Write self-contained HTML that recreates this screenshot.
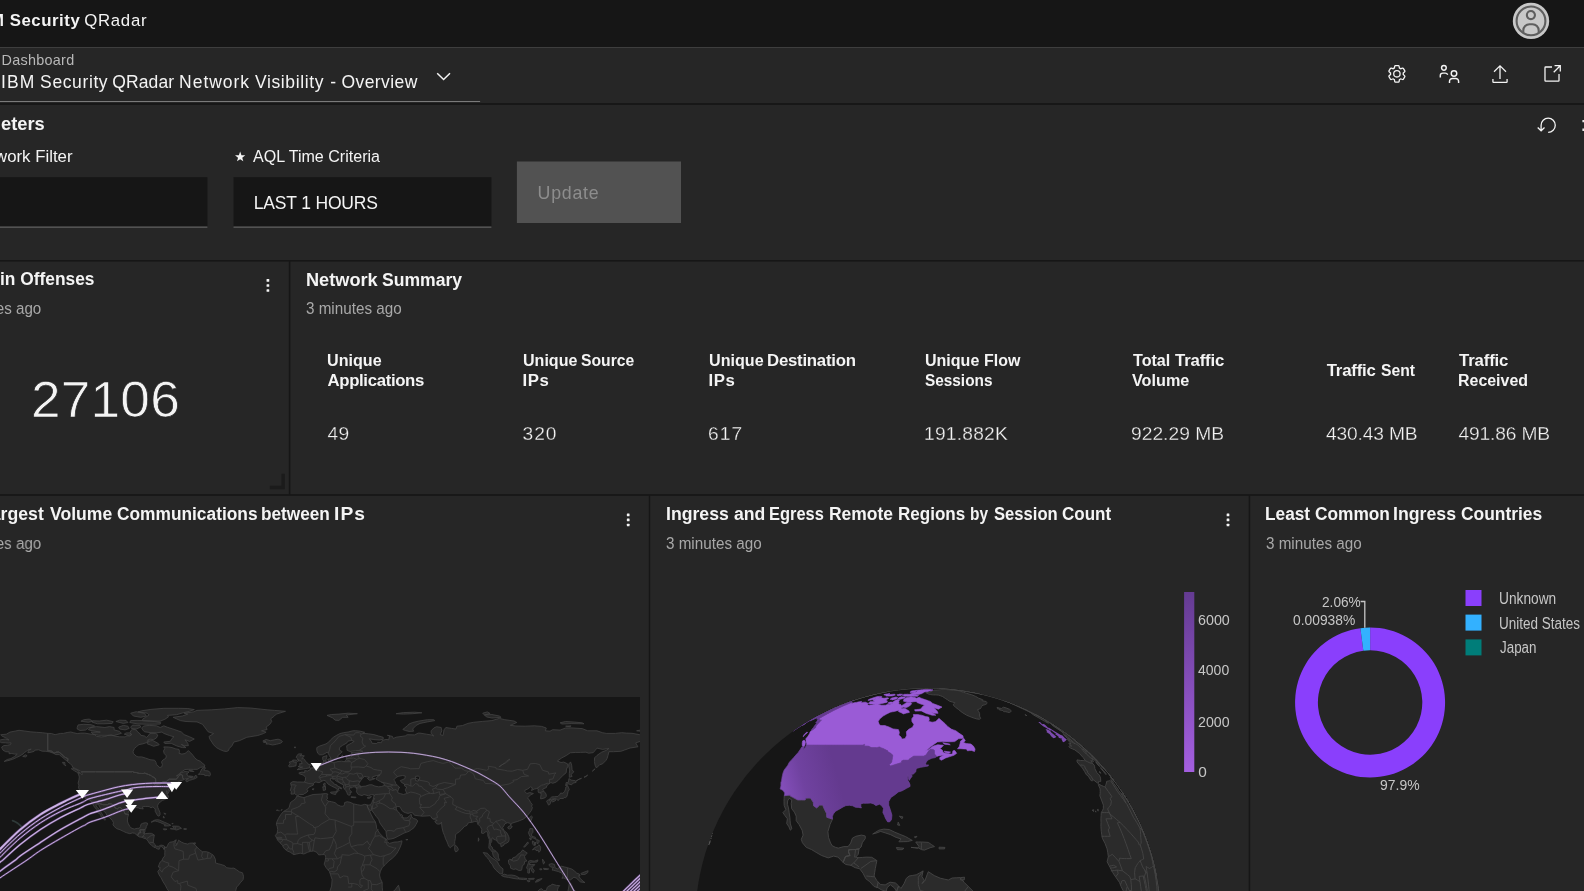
<!DOCTYPE html>
<html><head><meta charset="utf-8"><title>IBM Security QRadar</title>
<style>
html,body{margin:0;padding:0;background:#161616;}
body{width:1584px;height:891px;overflow:hidden;position:relative;font-family:"Liberation Sans",sans-serif;}
#bg{position:absolute;left:0;top:0;}
#tx{position:absolute;left:0;top:0;width:1584px;height:891px;will-change:transform;}
.t{position:absolute;white-space:pre;line-height:1;font-weight:400;}
</style></head><body>
<svg id="bg" width="1584" height="891" viewBox="0 0 1584 891">
<rect x="0" y="0" width="1584" height="891" fill="#161616"/>
<rect x="0" y="47" width="1584" height="1" fill="#3e3e3e"/>
<rect x="0" y="48" width="1584" height="55.1" fill="#262626"/>
<rect x="0" y="101" width="480.1" height="1" fill="#7a7a7a"/>
<rect x="0" y="104.9" width="1584" height="155.1" fill="#262626"/>
<rect x="0" y="261.6" width="288.8" height="232.6" fill="#262626"/>
<rect x="290.4" y="261.6" width="1293.6" height="232.6" fill="#262626"/>
<rect x="0" y="495.8" width="648.8" height="395.2" fill="#262626"/>
<rect x="650.2" y="495.8" width="598.5" height="395.2" fill="#262626"/>
<rect x="1250.2" y="495.8" width="333.8" height="395.2" fill="#262626"/>
<rect x="0" y="177.2" width="207.4" height="49.4" fill="#161616"/>
<rect x="0" y="226.6" width="207.4" height="1.0" fill="#6f6f6f"/>
<rect x="233.5" y="177.2" width="257.9" height="49.4" fill="#161616"/>
<rect x="233.5" y="226.6" width="257.9" height="1.0" fill="#6f6f6f"/>
<rect x="516.9" y="161.5" width="164.1" height="61.5" fill="#525252"/>
<clipPath id="mc"><rect x="0" y="697.0" width="640.0" height="194.0"/></clipPath>
<rect x="0" y="697.0" width="640.0" height="194.0" fill="#161616"/>
<g clip-path="url(#mc)">
<path d="M91.8,802.4L91.0,801.0L89.4,800.0L88.3,799.5L85.5,798.7L84.8,797.1L82.9,795.0L82.8,794.3L81.8,793.0L80.9,791.8L79.4,789.6L78.5,787.8L78.9,785.2L78.1,783.1L78.9,780.1L79.3,777.0L78.7,774.9L77.8,772.9L80.7,773.2L82.0,774.9L82.2,773.2L81.3,771.8L95.7,771.8L114.1,771.8L132.1,771.8L132.9,771.2L133.3,772.3L136.2,772.5L139.0,773.4L141.7,773.4L143.0,773.6L144.7,773.1L148.2,774.4L151.3,775.7L151.9,776.4L153.5,777.2L155.6,778.6L155.7,782.9L155.2,783.9L154.4,784.6L155.6,785.3L158.3,784.4L162.0,783.3L161.8,782.4L162.9,781.8L166.1,781.8L167.0,780.7L169.4,779.2L175.8,779.2L177.1,778.5L178.0,777.0L178.6,776.0L180.1,774.6L181.7,774.8L182.6,775.4L182.6,777.9L183.4,778.8L184.1,779.4L183.0,780.1L180.8,780.5L179.0,781.4L178.0,782.0L177.3,783.1L176.9,784.0L177.5,785.0L178.6,784.7L178.6,785.3L176.7,785.7L175.8,785.9L174.0,786.2L172.0,786.7L171.2,787.4L171.2,788.9L170.3,789.8L169.6,790.5L168.5,789.6L168.8,790.5L169.2,791.5L168.3,793.0L167.7,793.9L167.2,792.4L166.8,790.5L166.6,792.2L167.0,794.1L167.6,794.8L168.3,796.1L168.5,797.3L166.6,798.4L164.2,799.8L162.2,800.4L160.3,802.1L158.5,803.4L157.6,805.6L157.8,807.5L158.9,809.9L160.0,812.7L160.0,814.9L159.2,816.0L158.1,816.1L156.8,814.4L156.1,812.9L155.2,811.4L155.2,809.1L153.9,807.7L152.8,807.0L150.9,807.8L149.7,806.9L148.0,806.4L145.6,806.5L143.8,806.4L142.5,806.8L142.8,808.2L143.3,809.0L141.5,808.7L139.9,808.6L138.2,807.8L136.2,807.6L134.4,807.8L132.9,808.4L131.4,809.4L129.2,810.6L128.3,812.1L128.1,813.4L128.5,814.7L125.0,813.8L124.2,811.8L122.4,809.7L120.5,807.5L118.7,807.5L117.4,809.0L115.0,807.8L114.1,806.0L111.3,803.8L108.2,803.8L108.2,804.7L103.0,804.7L96.0,802.4L96.2,802.1ZM67.5,761.2L65.6,760.2L64.0,758.4L61.4,756.5L59.2,754.6L56.0,754.6L53.3,753.2L49.6,751.9L45.9,751.3L42.2,751.2L38.5,749.8L34.8,750.2L34.1,751.4L31.2,752.2L27.8,752.8L28.6,750.4L31.2,749.1L28.0,749.8L26.5,751.3L24.5,752.4L23.2,753.9L20.1,755.8L16.4,757.6L12.7,759.3L9.0,760.4L4.1,761.5L7.2,759.5L10.9,758.6L14.6,756.5L17.3,754.1L14.9,754.1L11.8,753.5L9.0,753.7L9.2,751.9L5.7,751.7L3.0,750.2L2.0,748.3L1.7,747.0L3.9,745.5L7.2,745.3L10.5,744.6L11.1,742.9L8.1,743.1L5.3,742.8L1.3,742.7L-0.5,741.4L-2.0,740.9L0.7,739.8L5.3,739.0L9.0,740.0L6.3,738.1L1.7,735.9L0.7,734.7L6.3,734.2L10.0,732.1L15.5,731.0L19.0,730.3L24.7,731.0L30.2,731.8L36.7,732.3L42.2,732.7L47.7,733.4L47.7,750.7L51.4,751.1L54.2,753.2L56.0,752.2L58.8,752.0L61.6,754.1L64.3,756.9L68.0,758.7ZM47.7,733.4L51.4,733.5L55.1,734.7L57.9,734.0L60.6,733.4L63.4,733.4L67.1,732.5L70.8,732.0L73.5,732.7L77.2,733.6L80.9,733.1L84.6,733.1L90.1,734.0L94.7,734.7L96.6,736.4L101.2,736.9L104.9,736.5L107.6,735.5L111.3,734.9L115.0,736.2L119.6,736.8L125.1,736.9L127.0,735.7L129.8,736.0L131.6,734.6L130.1,732.7L130.7,730.8L132.5,729.2L136.2,729.9L138.0,732.3L139.9,733.6L140.8,735.3L144.5,736.0L146.3,737.5L148.2,735.9L150.0,733.3L155.6,733.3L157.8,735.1L156.5,737.9L153.7,739.6L150.0,739.2L147.6,740.0L149.1,741.6L146.3,742.7L142.7,743.9L139.0,744.6L136.6,746.5L134.4,748.5L133.1,751.3L133.4,753.5L136.2,756.1L138.0,756.9L141.7,756.9L145.4,758.0L150.0,759.7L154.6,760.2L156.1,762.5L156.3,764.5L158.3,766.0L159.4,767.5L161.6,767.1L162.4,764.7L161.5,761.9L162.9,760.0L165.7,758.4L166.4,755.9L164.2,753.5L163.5,750.9L164.8,748.7L163.8,746.9L168.5,747.0L172.1,747.6L175.8,748.9L179.0,749.4L179.5,751.7L179.0,753.3L181.9,754.1L185.0,753.5L186.9,751.9L188.4,750.6L190.6,752.8L192.8,755.2L194.6,757.6L197.0,759.9L200.3,761.2L202.2,763.0L204.8,765.1L204.4,766.9L200.7,767.3L197.4,769.3L193.3,769.4L188.7,769.3L185.0,769.5L182.6,771.2L179.9,773.1L177.5,775.3L176.4,775.9L178.6,774.9L181.4,772.7L185.0,771.5L189.1,771.9L187.4,773.6L186.3,774.0L188.0,775.3L188.4,776.8L190.0,777.3L192.4,777.9L194.3,777.9L195.0,775.7L196.3,775.5L197.2,777.3L195.2,778.6L192.4,779.5L189.6,780.3L186.9,781.8L185.8,781.2L186.0,779.9L188.5,778.6L186.9,778.7L185.0,779.0L184.1,779.4L183.4,778.8L182.6,777.9L182.6,775.4L181.7,774.8L180.1,774.6L178.6,776.0L178.0,777.0L177.1,778.5L175.8,779.2L169.4,779.2L167.0,780.7L166.1,781.8L162.9,781.8L161.8,782.4L162.0,783.3L158.3,784.4L155.6,785.3L154.4,784.6L155.2,783.9L155.7,782.9L155.6,778.6L153.5,777.2L151.9,776.4L151.3,775.7L148.2,774.4L144.7,773.1L143.0,773.6L141.7,773.4L139.0,773.4L136.2,772.5L133.3,772.3L132.9,771.2L132.1,771.8L114.1,771.8L95.7,771.8L81.3,771.8L80.5,771.0L78.0,769.9L75.4,768.6L72.8,767.3L71.9,765.4L70.0,763.4L67.8,762.1L67.5,761.2L68.0,758.7L64.3,756.9L61.6,754.1L58.8,752.0L56.0,752.2L54.2,753.2L51.4,751.1L47.7,750.7ZM128.5,814.7L127.7,817.3L127.4,821.0L128.3,823.8L129.9,826.6L131.0,827.9L132.9,828.7L134.4,829.0L137.1,828.3L139.3,828.3L140.4,826.6L141.0,824.2L142.7,823.3L145.4,822.7L147.4,823.1L147.6,824.4L146.3,826.4L146.0,828.5L145.0,829.4L143.3,829.7L139.9,829.8L139.9,830.9L140.8,832.6L138.6,833.0L137.7,835.8L134.7,833.3L132.5,832.9L129.8,833.7L126.1,832.6L123.3,831.3L120.0,829.7L116.8,828.7L114.1,826.4L113.0,824.8L113.5,822.7L112.2,820.3L109.5,817.5L106.9,815.5L106.0,813.2L103.9,811.2L101.2,809.3L99.5,806.7L98.8,804.7L96.4,803.8L96.0,805.2L96.9,807.1L98.8,809.0L100.3,811.2L102.1,814.0L103.8,817.1L105.6,819.6L104.9,820.3L103.4,818.6L101.2,817.0L100.6,814.5L98.4,813.1L96.0,811.4L97.3,809.9L94.9,807.7L93.4,805.4L91.8,802.4L96.2,802.1L96.0,802.4L103.0,804.7L108.2,804.7L108.2,803.8L111.3,803.8L114.1,806.0L115.0,807.8L117.4,809.0L118.7,807.5L120.5,807.5L122.4,809.7L124.2,811.8L125.0,813.8ZM145.0,829.4L144.9,832.0L143.8,833.3L145.4,833.6L149.1,833.3L151.7,833.4L154.3,835.0L153.7,838.7L153.3,842.3L154.6,844.3L156.5,846.2L158.7,846.3L160.9,845.1L163.5,845.5L165.0,846.8L164.0,849.4L163.1,847.8L161.1,846.3L159.6,847.6L159.2,849.3L157.2,848.8L155.4,847.6L153.5,847.1L151.3,844.9L149.5,843.6L148.0,841.0L146.2,838.8L143.9,838.3L141.7,837.2L139.1,836.9L137.7,835.8L138.6,833.0L140.8,832.6L139.9,830.9L139.9,829.8L143.3,829.7ZM80.2,772.9L77.6,772.5L74.8,771.0L71.3,768.8L72.4,768.2L76.3,769.5L79.1,771.4ZM65.8,765.8L63.6,764.3L62.5,762.3L64.9,762.5L64.9,764.3ZM22.7,756.5L25.6,756.9L27.1,755.6L25.3,754.8ZM198.3,774.4L200.0,772.7L201.8,769.0L204.8,766.9L205.3,768.6L203.7,769.9L205.3,770.6L208.6,771.0L209.9,772.5L210.5,774.5L209.6,776.1L207.7,775.5L204.8,775.7L204.4,774.5L200.7,774.3ZM189.1,775.9L193.3,776.5L192.2,777.3L189.8,776.8ZM188.7,770.1L193.3,771.0L193.9,771.6L190.0,771.2ZM194.3,739.0L189.6,741.4L185.0,739.8L187.8,743.3L188.4,745.7L184.1,745.7L181.4,744.4L186.0,747.6L182.3,747.6L176.7,745.9L171.2,743.3L164.8,743.5L163.8,742.0L170.3,741.3L172.1,738.3L174.0,736.8L169.4,735.5L163.8,733.4L162.0,732.0L156.5,732.9L150.9,732.7L144.5,731.8L142.7,729.9L141.7,728.0L143.6,726.0L149.1,725.4L156.5,725.8L160.2,727.5L163.8,725.8L167.5,727.3L174.9,729.7L181.4,732.0L184.1,734.6L189.6,736.8ZM121.5,733.3L114.1,735.5L106.7,735.3L98.4,735.3L92.9,734.0L91.0,732.1L100.3,732.1L91.0,730.5L88.3,729.7L91.0,727.5L96.6,726.6L104.9,727.5L109.5,726.6L114.1,727.5L114.1,729.9L119.6,731.4ZM77.2,729.0L80.0,730.5L85.5,730.1L88.3,728.0L93.8,726.7L94.7,726.0L91.0,724.7L83.7,724.3L78.1,724.9L77.2,727.5ZM92.0,722.1L97.5,723.8L103.9,723.8L112.2,723.4L113.2,721.7L106.7,720.2L99.3,721.0L92.9,720.8ZM119.6,729.0L125.1,729.9L129.2,728.4L127.9,726.2L123.3,725.4L118.7,727.1ZM131.6,728.6L136.2,729.0L140.8,727.1L139.9,725.3L132.5,725.1L130.7,727.1ZM129.8,722.5L138.0,724.0L149.1,724.3L160.2,724.1L160.7,722.5L154.6,721.5L143.6,720.6L137.1,720.4L130.7,720.6ZM142.7,720.8L150.9,721.0L160.2,721.2L164.8,719.3L168.5,716.9L167.5,715.4L176.7,714.7L182.3,713.0L189.6,711.3L194.3,709.6L187.8,708.5L178.6,708.3L163.8,708.3L150.9,709.4L141.7,710.8L138.0,711.9L147.3,713.2L149.1,715.0L145.4,717.4L142.7,719.1ZM130.7,713.2L136.2,711.7L144.5,713.4L146.3,716.0L140.8,717.3L133.4,716.0ZM115.9,721.5L123.3,723.4L127.9,722.5L126.1,720.4L119.6,720.2ZM147.3,741.1L152.8,740.5L158.3,743.5L159.2,744.8L153.7,746.3L150.0,744.8L147.3,743.9ZM124.2,734.2L128.8,735.3L131.6,734.7L129.8,732.9L126.1,732.9ZM80.9,721.2L88.3,722.3L92.9,721.2L89.2,719.1L83.7,719.7ZM173.1,717.3L180.4,720.6L186.0,721.5L197.0,721.9L202.5,724.3L205.3,728.0L208.1,731.8L213.6,733.6L209.0,736.4L209.9,739.2L211.8,742.0L213.6,744.8L216.4,747.6L220.1,749.6L223.7,751.1L226.5,751.5L228.4,750.7L229.3,748.5L232.0,745.7L233.9,742.0L239.4,740.7L246.8,737.3L257.8,735.5L263.4,733.6L266.1,732.1L261.5,730.8L267.1,729.5L266.1,727.1L269.8,724.3L271.7,721.5L270.7,718.8L274.4,716.0L276.3,714.1L285.5,711.3L274.4,710.4L267.1,709.8L250.5,708.0L237.6,707.6L224.7,708.9L211.8,709.8L197.0,710.4L193.3,711.9L184.1,713.2L187.8,714.1L182.3,716.0ZM262.8,741.1L266.1,739.4L270.2,740.7L274.4,739.8L278.1,739.2L280.7,740.1L282.5,741.6L280.9,743.1L276.3,744.3L272.6,745.0L268.9,744.1L265.9,744.0L267.1,742.9L263.4,742.2L266.1,741.4ZM151.1,822.2L154.1,820.3L156.5,819.7L159.2,819.9L162.0,821.2L164.8,822.4L167.5,823.5L170.8,825.3L168.5,825.9L164.4,826.0L165.3,824.6L162.9,823.8L160.2,822.5L157.4,821.6L155.0,820.9L153.2,821.6ZM170.3,828.7L173.4,829.0L174.2,828.3L172.5,826.1L175.5,826.1L178.6,826.3L181.5,828.3L179.5,828.9L176.7,830.0L175.5,829.8L174.0,829.0ZM163.3,828.8L167.0,829.1L166.1,829.8L163.8,829.8ZM183.8,828.6L186.5,828.7L186.3,829.4L183.8,829.4ZM163.8,813.2L165.7,813.6L165.3,814.5ZM163.5,816.2L164.4,817.9L163.3,817.7ZM171.8,823.7L173.1,823.3L172.5,824.0ZM193.5,843.0L195.4,842.8L195.2,844.1L193.5,844.1ZM165.0,846.8L166.1,848.0L167.5,845.6L168.5,843.4L169.7,842.3L173.1,841.7L176.2,839.8L175.6,842.4L176.7,844.3L175.6,845.8L176.9,844.7L178.0,841.7L178.6,840.2L181.4,842.1L184.1,843.3L187.8,844.1L189.6,843.2L193.3,843.0L195.2,845.2L197.0,847.1L199.8,849.9L202.5,851.7L206.2,851.7L209.0,852.5L211.8,854.2L213.6,855.5L215.5,859.6L215.5,862.9L218.2,863.8L220.1,864.2L224.7,865.7L226.5,867.7L231.1,868.3L233.9,868.1L236.6,869.8L239.4,871.8L242.5,872.8L243.5,876.3L243.1,879.6L240.3,882.8L238.5,885.2L236.6,887.1L235.7,890.8L235.4,895.4L233.9,900.1L232.0,903.8L230.2,905.7L225.6,906.2L221.9,907.5L218.2,910.9L218.0,915.0L215.5,918.7L211.8,922.8L209.0,926.1L206.2,927.8L202.5,927.1L200.0,926.1L202.2,929.9L201.3,933.6L193.3,935.4L192.8,938.8L187.8,939.2L190.2,941.9L187.3,943.8L186.9,946.6L183.2,948.5L186.0,951.2L182.3,955.9L180.4,959.6L181.7,960.5L186.9,964.8L181.4,965.8L176.7,964.3L171.2,960.5L168.5,955.9L168.5,950.3L171.2,946.6L172.1,941.0L171.6,937.3L172.1,932.6L174.0,928.9L175.8,924.3L175.8,918.7L177.7,911.3L178.0,905.7L178.2,900.1L177.9,896.9L175.8,895.1L172.1,893.2L168.5,890.8L167.0,888.6L165.3,885.2L162.9,881.5L161.1,877.8L159.2,875.0L157.8,871.5L159.6,869.2L160.2,867.5L158.3,867.0L159.2,864.4L160.2,862.0L162.0,860.5L162.9,858.2L164.8,855.8L164.8,852.7L165.0,850.3L164.0,849.4ZM291.0,794.1L291.4,791.5L290.3,790.7L291.4,786.6L290.6,782.9L292.9,781.6L297.5,782.0L301.1,782.0L304.3,782.2L305.4,780.1L305.6,777.3L303.5,775.1L299.3,773.8L298.9,772.9L302.1,772.1L304.8,772.5L304.7,770.6L307.6,771.0L310.4,769.5L310.5,768.2L314.1,767.3L315.3,766.0L316.3,764.3L320.5,763.4L323.3,762.8L323.8,761.0L322.7,759.7L322.7,756.9L327.0,755.6L326.6,757.8L326.0,759.7L326.0,761.5L327.9,762.5L330.6,761.7L333.8,762.5L338.0,761.5L341.7,761.2L344.1,761.7L346.3,760.0L346.3,756.9L348.1,755.8L350.9,756.9L352.4,755.9L352.8,754.5L350.9,752.8L353.7,752.2L359.2,751.9L362.9,751.3L360.1,750.4L355.5,750.6L350.0,751.5L347.2,750.4L346.9,748.5L346.7,745.7L351.8,742.9L354.2,741.4L351.8,740.5L348.1,741.1L346.9,742.9L342.6,745.3L339.5,747.6L339.3,750.0L342.2,751.7L340.8,753.2L338.0,755.4L337.6,757.8L334.3,758.7L333.8,759.9L331.6,759.9L331.0,758.4L329.3,755.6L328.2,753.2L327.0,752.2L325.1,753.5L322.3,754.8L319.6,754.8L317.7,753.2L316.8,750.4L316.8,747.6L319.6,746.1L323.3,744.8L326.0,743.9L328.8,742.0L330.6,739.8L333.4,737.3L336.2,735.5L339.9,733.6L343.5,732.7L348.1,732.0L352.8,730.8L355.5,730.7L360.1,731.2L364.7,732.3L362.9,733.3L368.4,733.8L373.9,734.6L378.6,736.0L383.2,737.3L383.2,739.2L379.5,740.0L373.9,739.6L369.3,738.8L371.2,741.1L372.1,743.3L376.7,743.5L377.6,742.4L381.3,742.7L382.2,740.5L385.9,739.4L388.7,739.8L389.6,735.9L387.4,735.3L392.4,736.4L393.3,738.5L396.1,737.2L405.3,735.9L407.1,734.7L414.5,734.9L418.2,733.1L420.0,733.1L426.5,734.2L431.1,734.9L433.8,736.0L431.1,733.4L431.1,730.8L433.8,728.0L436.6,726.7L441.2,727.5L441.8,730.8L440.3,734.6L443.1,735.5L444.0,729.9L445.8,727.5L451.4,728.4L456.0,729.0L456.9,726.2L462.4,725.6L467.9,723.4L473.5,722.3L482.7,721.4L491.9,720.6L499.3,718.4L504.8,719.7L514.0,721.0L516.8,722.5L510.3,725.3L515.9,726.0L525.1,726.2L534.3,725.8L541.7,726.4L546.3,728.0L545.3,730.8L550.0,731.2L552.7,729.7L560.1,730.1L565.6,728.0L571.1,727.9L582.2,728.6L587.7,730.8L597.0,730.8L602.5,732.7L606.2,733.4L615.4,733.4L621.8,732.7L626.4,733.1L632.0,733.3L639.3,734.6L644.9,736.4L652.2,738.3L658.3,740.0L652.2,742.9L646.7,741.4L641.2,741.1L635.7,742.9L637.9,746.8L630.1,748.0L624.6,750.0L620.9,751.3L613.5,751.7L608.9,751.7L608.0,755.4L607.1,758.4L605.8,760.6L602.5,763.9L599.7,764.7L596.4,768.0L595.1,765.2L594.4,761.5L594.6,757.8L597.0,755.4L601.6,752.2L606.2,750.4L608.9,748.5L602.5,749.4L597.0,748.1L593.3,752.6L588.7,753.2L585.9,752.2L580.4,752.4L575.8,752.4L570.2,752.8L566.5,755.4L561.9,757.8L557.3,761.0L561.0,762.5L563.8,762.1L567.5,763.8L568.0,766.2L566.5,769.0L566.2,772.7L562.9,775.5L559.2,779.2L556.4,782.0L552.7,783.3L550.9,782.5L548.5,784.2L546.8,785.7L546.3,787.6L543.1,788.9L542.6,790.0L544.4,791.7L546.1,794.1L546.3,796.3L545.3,797.6L543.0,798.4L540.6,798.9L540.7,796.9L541.1,794.5L540.9,793.0L538.5,792.6L538.0,790.9L538.5,789.4L536.9,788.5L534.3,789.1L531.5,790.5L532.4,787.9L530.6,786.8L527.8,788.9L525.1,790.2L524.5,791.3L526.9,793.5L529.7,792.6L533.4,793.5L530.6,795.0L527.5,797.8L529.3,800.0L530.6,802.4L532.3,804.7L531.5,806.2L532.4,807.5L531.5,810.3L529.7,812.7L528.0,814.9L526.0,817.0L523.2,819.2L519.5,820.7L517.7,821.4L514.0,822.5L511.3,823.5L510.9,825.1L509.8,823.1L507.2,822.7L504.8,823.8L503.9,825.7L502.6,827.6L503.9,830.4L507.0,833.1L508.9,836.9L509.2,839.6L508.5,841.9L505.7,843.6L504.4,843.7L503.9,845.2L501.1,846.9L500.7,844.3L498.4,843.2L497.1,841.1L495.6,840.0L493.6,839.3L492.8,837.8L491.9,838.3L491.7,841.5L490.4,843.7L490.6,845.8L492.3,847.3L492.8,849.5L495.0,850.4L496.5,851.7L498.2,854.0L498.4,857.3L499.6,860.3L498.2,860.5L496.0,858.8L494.3,857.5L493.0,855.1L492.5,852.5L491.3,850.8L488.8,848.0L489.0,845.2L489.3,842.4L489.3,839.6L487.8,835.9L487.7,832.2L486.0,831.5L483.4,833.5L481.4,833.1L481.8,829.4L480.3,826.6L478.1,824.4L477.2,822.4L476.8,821.2L474.4,821.6L471.6,822.4L469.8,822.5L467.9,823.1L467.0,825.3L464.3,826.6L461.5,829.8L459.3,831.8L456.9,833.3L455.4,835.0L455.4,838.3L454.7,841.5L454.7,843.7L453.2,845.6L451.7,846.3L450.4,847.8L448.6,846.2L448.0,844.3L446.7,841.0L445.5,838.7L444.5,835.4L443.1,832.2L442.0,827.6L441.6,823.8L441.4,822.2L440.7,823.7L438.5,824.2L436.6,823.8L434.8,821.4L437.2,820.3L434.2,819.6L432.0,818.4L431.1,816.8L430.2,815.7L426.5,816.0L421.9,816.2L419.1,815.8L414.5,815.3L412.7,812.9L411.4,812.5L408.0,813.4L405.3,812.7L402.5,811.2L401.2,809.0L399.8,806.7L397.5,806.5L396.1,807.5L396.4,809.3L397.9,811.8L400.1,813.6L400.3,815.5L401.6,814.4L402.7,815.8L402.1,817.3L404.4,817.9L407.1,817.9L409.5,815.8L411.2,814.2L411.7,816.8L413.6,818.6L415.8,819.0L417.8,821.0L415.8,824.8L414.1,827.6L411.7,829.4L409.0,831.3L404.0,833.1L397.9,836.3L394.2,838.2L390.5,839.1L387.8,839.3L386.8,836.9L386.3,834.1L385.9,831.3L383.2,827.6L379.8,822.9L378.6,819.2L376.2,816.4L373.9,813.1L372.1,810.8L371.9,808.0L370.8,811.0L368.8,809.3L367.7,807.3L367.1,804.9L368.8,805.1L370.6,804.7L371.9,802.4L373.0,799.7L373.8,796.9L374.1,794.8L371.2,794.6L368.4,795.8L364.0,794.5L362.0,795.6L358.3,794.5L356.4,791.7L357.0,789.4L355.9,788.5L358.3,787.8L361.0,787.8L361.4,786.5L365.7,786.1L369.3,784.8L372.1,784.8L374.9,786.1L378.6,786.8L381.3,786.6L384.3,785.5L384.1,783.5L380.8,781.8L377.6,780.1L375.8,778.8L377.6,776.4L379.8,775.3L376.7,775.5L372.5,776.8L372.1,778.1L374.9,778.6L372.5,779.6L369.5,780.3L367.5,778.5L369.3,777.3L366.6,776.8L364.4,776.4L362.3,778.6L360.3,781.1L359.2,782.9L358.7,784.0L359.6,785.7L361.2,786.3L359.2,786.6L357.4,787.2L355.9,787.8L355.5,787.0L352.8,786.8L351.8,787.9L349.8,787.6L349.4,789.4L350.5,790.7L351.8,792.2L350.0,792.4L350.4,793.5L350.0,795.0L348.9,795.2L347.6,794.5L346.9,792.6L345.8,790.5L344.8,789.2L343.4,787.9L343.5,785.3L341.7,783.9L338.9,782.5L336.2,781.1L334.3,778.8L332.8,779.4L332.7,778.1L330.3,778.6L330.5,780.5L332.7,782.0L334.3,784.2L337.1,785.0L337.1,785.9L339.9,787.0L341.7,788.1L341.5,788.9L338.9,787.8L338.2,789.1L339.1,790.4L338.0,791.5L336.5,792.4L336.9,790.9L337.1,789.4L336.2,788.3L334.3,787.4L331.6,786.1L330.1,785.2L327.9,783.9L326.6,782.0L325.1,780.7L323.8,780.3L321.4,781.4L319.0,782.7L316.8,782.2L315.0,782.0L313.3,783.9L313.5,785.0L311.7,785.9L309.1,787.0L307.0,789.4L308.0,790.9L306.5,792.6L304.3,793.7L303.4,794.5L299.5,794.6L297.6,795.8L296.2,794.8L294.7,793.7L292.9,794.1ZM296.7,796.3L297.8,796.1L302.1,797.2L303.9,797.6L307.6,796.3L313.1,794.5L320.5,794.1L325.7,793.5L327.9,794.1L327.0,795.9L327.5,798.7L326.4,799.7L328.2,801.1L331.6,801.7L335.6,802.8L337.1,804.7L340.8,806.2L343.5,806.2L344.5,804.3L344.6,802.6L347.2,801.7L350.0,802.3L353.7,803.9L357.4,804.7L361.0,805.4L364.7,804.3L367.1,804.9L367.7,807.3L369.3,810.8L371.2,814.5L373.0,818.3L375.4,822.0L376.2,824.8L376.7,828.5L379.5,833.1L381.3,835.0L384.1,837.8L387.2,839.6L386.8,841.5L389.6,843.4L394.2,842.1L397.9,841.9L402.0,840.8L401.6,843.4L399.8,848.0L397.9,851.7L396.1,854.5L392.4,858.2L388.7,861.0L385.0,864.8L382.2,867.5L380.4,871.3L379.5,875.0L380.4,878.7L382.2,882.4L382.2,887.1L382.6,890.8L379.5,894.5L374.9,898.2L372.1,901.0L373.0,906.6L368.4,910.3L368.1,913.1L366.6,916.8L363.8,920.6L360.1,923.9L356.4,926.0L351.8,926.3L348.1,926.5L344.5,927.6L341.5,926.5L340.8,923.4L338.9,918.7L336.2,913.1L334.3,905.7L330.6,896.4L329.3,892.7L331.6,886.1L332.1,879.6L330.3,874.1L329.3,871.3L326.0,867.5L324.2,864.2L325.1,861.0L325.7,857.3L325.5,855.5L324.0,854.5L321.4,854.7L318.7,854.9L316.8,852.3L313.9,851.0L310.4,851.4L307.6,852.3L303.9,854.0L300.2,853.2L296.5,854.0L293.8,854.7L290.1,852.1L287.7,851.2L284.6,848.9L283.3,847.1L282.4,845.2L280.0,842.8L278.1,840.6L276.8,838.3L275.3,835.6L277.2,833.1L277.7,829.4L277.2,826.6L276.3,824.2L277.2,821.0L278.5,818.3L280.9,814.5L283.6,811.4L287.3,809.3L289.2,807.5L289.7,805.2L290.6,802.4L293.8,800.2L295.6,798.7ZM398.5,885.2L400.1,891.7L398.8,895.4L397.0,902.0L394.2,909.4L390.5,910.3L388.1,906.6L387.8,902.9L389.2,899.7L388.7,895.4L391.5,892.7L395.1,889.9L397.0,887.1ZM297.1,769.7L301.1,769.3L305.4,768.6L310.2,767.7L309.1,766.9L310.7,764.9L308.2,764.3L307.8,763.2L305.4,761.3L304.7,759.7L303.7,758.7L301.7,758.7L303.9,756.5L304.3,755.8L301.1,755.6L299.9,755.9L301.9,753.9L298.4,753.9L296.9,755.9L296.2,757.4L297.5,758.7L297.8,760.0L298.9,759.7L298.2,761.0L301.1,760.8L301.7,762.5L302.1,763.6L299.3,763.8L299.9,764.7L300.0,765.6L298.0,766.6L301.1,767.1L302.6,767.1L299.9,767.7ZM296.2,763.8L296.0,765.8L292.3,766.6L289.2,766.9L288.6,765.8L290.1,763.8L289.2,762.1L291.9,761.5L292.5,760.2L294.1,760.0L296.5,760.2L297.5,761.5L296.4,762.5ZM548.8,799.7L551.8,796.9L554.6,796.7L557.9,796.5L559.7,794.5L560.6,793.1L562.9,793.3L564.7,791.3L565.6,788.9L565.6,787.4L567.8,785.9L568.6,787.9L569.3,789.4L568.0,791.7L567.5,794.3L566.9,796.5L565.4,797.8L564.9,797.1L563.4,798.4L561.9,798.5L560.1,798.5L559.7,799.1L557.9,800.6L556.8,799.1L554.6,798.5L551.8,799.3L549.0,799.8ZM565.6,785.7L566.2,782.5L568.4,782.4L568.9,778.5L571.1,780.1L575.4,780.7L576.1,782.4L573.0,783.1L571.7,784.8L568.4,783.9L566.5,784.2L567.5,785.3L566.0,785.9ZM548.8,799.8L550.3,800.6L550.9,801.9L549.8,804.5L548.5,805.1L547.6,803.0L546.6,801.5L547.2,800.4ZM551.8,800.0L554.9,799.1L555.9,800.0L554.9,801.0L552.7,801.9L551.4,801.1ZM570.6,761.9L571.7,765.2L572.1,769.9L573.9,771.8L571.1,774.5L572.1,776.4L569.3,777.3L569.3,773.6L569.7,769.9L568.8,766.6L568.9,763.8ZM531.5,816.0L532.4,816.8L531.3,820.1L530.2,822.0L529.1,820.5L529.1,818.6L530.6,816.4ZM507.9,827.0L510.3,825.5L512.2,826.3L511.3,828.1L509.4,829.0L507.9,828.3ZM455.0,844.7L457.3,847.1L458.4,849.3L457.4,851.2L455.6,851.9L454.7,849.9L454.7,847.1ZM529.9,828.5L532.8,828.7L533.0,832.2L531.5,834.1L531.9,836.3L535.2,837.2L536.3,839.5L533.7,838.2L531.5,837.4L529.9,836.5L529.3,835.0L528.4,832.6L529.5,830.4ZM532.4,849.9L535.2,847.1L537.4,846.7L538.9,844.7L540.7,847.1L540.4,850.8L538.9,852.3L538.3,850.3L536.1,850.6L534.8,848.9ZM536.9,839.6L539.3,840.6L538.9,842.4L537.6,843.9L536.9,841.9ZM532.4,841.0L534.8,842.4L534.3,845.8L533.2,844.7L532.4,843.4ZM529.5,838.0L531.3,838.2L531.0,840.0L530.1,839.5ZM535.0,842.6L536.1,842.4L535.4,845.2L534.8,844.7ZM523.6,847.1L527.8,841.9L528.4,843.2L524.7,847.1ZM508.5,860.1L509.8,859.2L512.2,859.9L512.7,857.9L515.9,856.8L517.7,854.5L520.5,852.7L522.7,849.9L524.5,851.2L527.3,853.2L525.4,854.9L524.5,856.4L525.1,858.6L526.9,861.0L524.7,861.4L524.2,864.4L522.3,865.7L521.9,868.9L521.4,870.3L518.8,870.5L515.9,868.9L513.6,869.4L510.7,868.3L510.3,865.7L508.9,863.8L508.5,862.3ZM483.2,852.5L487.3,853.2L489.5,855.8L491.9,857.9L494.7,859.6L497.4,861.6L498.9,864.8L500.2,866.6L503.0,868.9L502.6,873.7L500.2,873.9L496.1,870.3L493.7,867.5L492.5,864.8L490.1,862.0L489.1,859.7L486.7,857.3L484.5,854.5ZM501.5,875.5L504.2,874.1L507.6,875.2L511.6,875.0L515.3,875.7L518.6,877.4L518.4,879.1L514.0,878.5L508.5,877.4L503.9,876.7ZM518.6,878.0L523.2,878.2L526.9,878.5L526.9,879.3L523.2,879.6L518.8,879.1ZM528.4,878.5L534.3,878.3L533.9,879.3L528.6,879.3ZM535.2,882.1L538.0,879.6L542.0,878.5L540.7,880.0L537.1,881.9ZM526.9,880.6L530.2,880.9L528.8,881.9ZM528.4,861.4L530.2,860.5L534.3,861.2L538.0,859.9L537.1,862.0L534.3,862.2L530.6,862.2L529.1,864.4L531.5,864.6L534.8,864.4L533.9,865.9L531.7,866.4L533.0,869.0L534.3,870.7L533.4,872.8L531.9,871.6L530.6,868.1L529.5,868.5L529.5,873.1L527.8,873.1L527.8,869.4L526.5,867.9L527.5,865.1L528.4,862.9ZM542.6,859.2L543.5,861.0L544.8,862.0L543.5,864.2L542.8,862.0ZM539.8,868.7L542.0,869.0L541.3,870.0L539.8,869.6ZM543.5,868.3L548.7,868.9L547.2,869.6L543.9,869.4ZM549.0,864.4L551.8,863.6L554.6,864.6L554.9,867.5L557.3,869.0L561.0,866.1L564.7,867.0L567.5,867.7L572.1,869.2L574.8,871.3L576.7,873.1L579.4,874.1L580.0,875.9L578.5,875.7L580.4,878.7L584.0,881.9L585.0,882.6L580.4,881.9L578.2,880.0L576.7,878.2L573.9,877.2L572.1,878.7L570.2,880.0L567.5,879.8L563.8,878.0L561.9,878.3L563.2,875.9L561.9,873.1L558.2,871.5L553.6,870.3L552.4,870.3L552.5,868.5L553.6,867.5L550.9,867.0L549.0,865.5ZM580.9,873.5L584.0,872.2L588.1,870.7L587.7,872.6L585.0,874.4L581.3,874.4ZM516.8,903.8L518.1,903.4L522.9,901.0L526.9,900.1L530.6,899.2L533.0,896.4L532.8,894.5L535.2,895.1L536.1,893.2L538.9,889.9L541.3,888.6L543.5,890.4L546.3,890.6L547.2,887.6L548.7,886.0L550.9,885.6L552.0,884.1L556.4,885.4L559.7,885.6L558.2,887.6L557.3,890.6L560.1,892.3L563.8,894.3L566.5,895.4L567.8,891.7L568.6,888.0L569.3,883.4L570.4,882.8L572.1,886.1L572.6,889.5L575.4,890.8L576.7,895.4L577.6,898.2L580.4,900.1L583.1,903.8L585.9,907.5L589.6,911.3L590.5,916.8L588.7,923.4L585.9,926.1L584.0,931.7L578.5,934.5L573.9,933.6L567.5,934.0L562.9,928.9L559.2,928.9L557.3,927.6L554.6,923.9L549.0,921.5L543.5,922.4L536.1,924.3L528.8,926.1L524.2,928.0L519.5,926.7L520.8,921.5L518.6,915.0L516.8,910.3ZM402.9,729.5L404.4,728.0L407.1,726.2L409.0,724.0L412.7,722.5L418.2,721.2L427.4,719.7L433.8,719.7L434.8,720.6L427.4,721.9L420.0,723.4L416.3,725.3L414.5,727.1L412.7,729.0L413.6,731.2L409.0,731.4L405.3,730.5ZM327.0,715.4L332.5,717.8L335.2,720.2L338.9,720.4L342.6,717.3L348.1,717.3L346.3,715.0L357.4,713.7L348.1,713.2L338.9,714.1L331.6,714.5ZM396.1,713.7L403.4,712.6L414.5,712.2L421.9,712.8L412.7,713.7L403.4,714.1ZM484.5,715.0L491.9,714.5L499.3,716.0L501.1,717.3L491.9,718.0L486.4,716.9L482.7,713.2L487.3,711.9L490.1,713.5ZM560.1,722.8L565.6,721.5L574.8,722.1L582.2,722.8L584.0,723.8L571.1,723.6L561.9,724.0ZM565.6,726.2L571.1,725.8L570.2,726.7ZM636.6,730.8L641.2,729.9L643.9,730.5L640.3,731.2ZM330.6,792.2L336.4,791.7L335.6,794.6L333.4,794.1L330.6,793.0ZM322.7,786.8L325.5,786.3L325.5,790.0L323.3,790.5L323.1,788.5ZM323.4,783.9L325.1,782.9L325.1,785.7L323.8,785.7ZM351.1,796.7L356.1,797.2L355.5,797.8L351.1,797.4ZM367.1,797.8L371.4,796.5L370.3,798.0L368.4,798.5ZM312.0,789.2L313.9,788.7L313.5,789.8ZM327.7,759.3L330.6,758.6L330.8,760.0L329.3,760.8L328.1,760.2ZM341.0,756.7L342.6,755.2L342.2,756.3ZM405.8,839.5L408.0,839.5L406.8,840.0ZM294.1,747.2L295.6,747.0L295.1,748.1ZM276.5,810.1L277.9,809.9L277.0,810.8ZM278.5,810.6L279.2,810.6L279.0,811.2ZM281.4,809.7L282.2,809.5L281.2,810.6ZM478.4,837.8L479.0,839.6L478.3,841.3ZM575.8,781.2L578.5,779.6L581.5,778.3L579.4,779.0ZM584.0,777.3L587.7,775.1L585.9,776.6ZM592.3,771.2L595.1,768.8L593.8,769.9ZM395.1,778.3L397.9,776.4L402.5,775.5L405.3,776.0L404.9,778.6L402.0,779.9L400.3,780.5L401.6,782.5L404.4,783.9L404.7,786.1L406.8,787.0L405.3,789.8L406.8,793.5L403.4,794.5L400.7,793.7L397.9,792.8L397.7,791.3L398.5,789.4L398.8,787.6L399.8,787.8L397.9,785.7L395.5,783.3L395.1,781.4L393.7,780.1ZM415.4,776.4L418.2,776.0L420.0,777.7L418.2,781.1L415.4,780.5ZM498.9,766.9L502.0,764.7L506.6,762.5L510.0,759.3L508.9,759.3L504.8,762.8L501.1,765.6Z" fill="#282828" fill-rule="evenodd" stroke="#424242" stroke-width="0.8" stroke-linejoin="round"/>
<path d="M81.3,771.8L95.7,771.8L114.1,771.8L132.1,771.8L132.9,771.2L133.3,772.3L136.2,772.5L139.0,773.4L141.7,773.4L143.0,773.6L144.7,773.1L148.2,774.4L151.3,775.7L151.9,776.4L153.5,777.2L155.6,778.6L155.7,782.9L155.2,783.9L154.4,784.6L155.6,785.3L158.3,784.4L162.0,783.3L161.8,782.4L162.9,781.8L166.1,781.8L167.0,780.7L169.4,779.2L175.8,779.2L177.1,778.5L178.0,777.0L178.6,776.0L180.1,774.6L181.7,774.8L182.6,775.4L182.6,777.9L183.4,778.8L184.1,779.4M91.8,802.4L96.2,802.1L96.0,802.4L103.0,804.7L108.2,804.7L108.2,803.8L111.3,803.8L114.1,806.0L115.0,807.8L117.4,809.0L118.7,807.5L120.5,807.5L122.4,809.7L124.2,811.8L125.0,813.8L128.5,814.7M47.7,733.4L47.7,750.7L51.4,751.1L54.2,753.2L56.0,752.2L58.8,752.0L61.6,754.1L64.3,756.9L68.0,758.7L67.5,761.2M145.0,829.4L143.3,829.7L139.9,829.8L139.9,830.9L140.8,832.6L138.6,833.0L137.7,835.8M143.3,829.7L143.2,833.3L143.8,833.3M145.0,833.7L143.0,836.1L141.5,837.3M143.0,836.1L144.5,837.0L145.8,838.0M146.7,838.7L149.1,837.0L151.3,835.4L154.3,835.0M149.7,842.3L153.3,842.6M155.4,845.0L154.8,847.8M175.3,826.3L175.3,829.6M176.2,839.8L174.0,842.8L174.0,846.2L174.9,848.9L178.6,849.9L183.2,851.4L183.6,859.2L179.0,860.7L178.6,870.7M197.0,847.1L194.8,849.9L195.7,853.2L189.6,855.5L188.7,859.2L183.6,859.2M202.5,851.7L201.6,856.4L203.5,859.2L197.9,860.1L195.7,853.2M208.1,852.3L207.2,858.4L203.5,859.2M212.3,854.5L210.8,858.2L207.2,858.4M162.0,860.5L165.7,862.2L168.8,863.1L168.5,865.7L173.1,867.2L178.6,870.7M159.6,869.2L162.0,872.2L163.3,869.2L168.5,865.7M178.6,870.7L173.1,872.2L171.2,876.9L174.9,881.5L177.7,880.6L177.7,883.4L179.5,883.4L181.0,886.1L180.4,890.8L179.3,895.1L177.9,896.9M179.5,883.4L187.3,881.1L187.8,885.2L196.1,888.4L197.0,893.0L200.2,893.2L201.1,896.4L200.7,900.1M291.2,785.0L292.5,784.8L295.6,785.0L296.2,785.7L294.9,786.6L294.7,789.1L293.8,789.2L294.7,791.8L294.0,793.7M304.3,782.2L308.9,783.5L313.3,783.9M312.2,767.9L315.3,769.9L318.3,770.8L319.4,770.8L322.7,771.8L321.6,774.4L318.7,777.0L320.5,777.5L319.8,779.0L321.6,780.7L321.4,781.4M313.9,767.3L315.9,767.3L318.7,768.0L318.7,766.4L320.5,765.6L320.9,763.9M318.7,768.0L318.8,769.7L318.3,770.8M323.4,760.8L325.8,761.0M333.8,762.6L334.5,765.1L334.9,768.0L329.9,769.3L333.0,772.1L331.6,774.5L327.0,774.5L325.3,774.5L321.6,774.4M320.5,777.5L323.3,776.8L324.7,776.6L327.0,775.9L330.1,775.5L332.8,776.4L332.7,778.1M325.3,774.5L327.0,775.9M332.8,776.4L337.1,776.0L337.3,775.7L339.1,773.6M333.0,772.1L335.2,771.8L338.7,772.5L339.1,773.6M334.9,768.0L338.0,769.3L342.2,770.8L344.5,771.4L349.1,771.6M342.2,770.8L339.1,773.6L342.2,774.0L345.4,772.7L348.3,772.9M349.1,771.6L351.8,769.0L351.1,767.1L351.1,765.1L351.6,762.6L350.9,761.9L349.6,761.7M344.1,761.7L349.6,761.7L349.4,760.6L346.9,760.0M346.3,758.6L353.5,758.0L356.6,759.3M352.4,755.2L358.1,755.9M359.2,752.2L358.1,755.9L359.6,758.4M351.6,762.6L355.1,760.8L356.6,759.3L359.6,758.4L364.5,759.5L367.9,763.6L366.2,766.0M351.1,767.1L358.3,766.9L364.0,767.5L366.2,766.0M366.2,766.0L371.0,767.5L373.2,769.2L377.6,770.1L381.5,770.6L381.0,773.8L378.0,775.3M348.3,772.9L349.8,773.6L353.5,774.2L356.6,773.1L359.6,778.3L362.3,778.6M356.6,773.1L361.4,773.6L363.1,776.6L359.6,778.3M349.8,773.6L346.7,777.2L345.0,777.2L342.2,777.5L338.2,776.4L337.1,776.0M345.0,777.2L347.0,779.4L349.4,780.7L352.8,781.6L357.4,780.9L360.3,781.6M349.4,780.7L348.9,784.2L350.0,786.1L352.8,785.7L356.1,785.3L359.2,784.8M356.1,785.3L355.5,787.0M344.5,789.1L346.3,786.8L350.0,786.1M343.4,785.0L345.4,784.8L345.8,786.6L346.3,786.8M345.4,784.8L348.9,784.2M336.7,778.8L338.9,778.8L342.6,779.4L343.4,782.0L345.0,783.3L345.4,784.8M336.7,778.8L337.5,780.7L340.0,782.9L341.7,783.9L343.4,782.0M332.7,778.3L335.8,778.3L338.2,776.4M342.6,779.4L342.8,777.5M328.2,753.2L329.7,749.4L330.3,745.7L333.4,742.9L336.2,739.8L338.9,736.4L345.0,734.6L353.7,735.1L355.5,732.7L359.2,732.7L361.0,734.2L364.4,733.1M351.8,740.5L350.9,737.3L345.0,734.6M361.0,734.2L360.1,736.0L362.9,738.3L362.0,742.0L363.8,745.7L365.7,746.1L359.2,750.4M294.1,760.6L292.7,761.5L294.7,762.3L296.2,762.3M384.3,785.5L387.8,786.5L388.1,788.3L390.2,789.1L389.2,791.5L389.8,793.7M381.3,782.2L386.8,783.3L393.3,785.0L397.0,785.2M387.8,786.5L390.5,786.1L393.3,785.0M390.5,786.1L393.3,789.4L392.6,790.5M390.2,789.1L392.6,790.5L396.1,789.4L397.7,791.5M374.1,795.9L375.2,794.5L378.6,794.3L385.6,793.7L389.8,793.7M385.6,793.7L383.5,798.2L379.1,800.8M379.1,800.8L375.4,802.8L373.4,802.1L373.2,801.0L374.7,798.5L373.8,798.4M373.4,802.1L373.0,804.3L372.1,808.0M379.1,800.8L379.8,803.0L375.8,804.3L377.6,806.2L376.7,807.1L373.9,808.6L372.1,808.0M379.8,803.0L382.1,803.6L385.0,805.1L390.0,808.6L393.3,808.8L395.5,809.9L396.8,809.9M393.3,808.8L394.2,807.1L396.1,807.1M389.8,793.7L391.3,795.9L392.4,797.8L391.5,799.7L392.4,801.5L395.7,803.8L395.5,805.2L397.2,807.1M370.6,804.7L371.9,808.0M386.5,832.4L387.2,830.5L390.9,830.5L394.2,831.3L396.1,829.0L403.4,827.6L409.0,825.7L410.1,822.0L409.3,820.7L404.5,820.3L402.7,817.9M403.4,827.6L405.5,831.8M409.3,820.7L410.8,817.9L411.5,816.6M401.2,817.0L402.1,817.3M406.9,793.5L410.8,792.0L415.4,793.0L420.4,794.8L420.4,796.7L419.3,799.1L419.8,804.3L421.5,804.5L419.8,807.5L424.1,812.3L421.1,816.0M419.8,807.5L429.8,807.3L435.3,803.6L436.6,801.0L438.6,799.7L439.6,795.9L445.6,793.7M420.4,796.7L426.8,793.9L430.2,793.3L432.6,793.7L435.7,793.0L439.4,791.7L439.4,794.5L445.6,793.7M404.2,784.8L407.1,784.2L410.8,786.1L412.7,786.1L415.6,783.5L418.2,784.4L418.4,785.9L421.7,786.5L422.8,788.5L425.9,790.5L430.2,793.3M410.8,786.1L410.8,779.2L415.6,778.1L420.0,780.3L427.2,781.6L429.4,782.9L429.2,784.8L432.9,786.5L434.8,785.9L438.3,784.2L444.4,782.5L455.4,784.4M397.9,777.0L397.0,776.2L393.7,772.9L394.2,771.4L397.4,768.8L401.2,766.7L408.0,768.0L410.3,768.8L419.1,768.6L420.9,763.4L427.4,761.7L433.3,760.6L438.5,762.3L442.9,763.4L448.6,762.1L451.2,763.8L455.0,768.2L461.3,768.0L464.8,770.6L468.5,771.4M468.5,771.4L465.5,774.7L460.6,775.1L459.6,778.8L455.6,779.2L455.4,784.4L447.7,787.8L443.6,788.9L443.2,789.6L445.6,793.7L451.0,796.9M432.6,793.7L433.7,791.8L432.4,789.2L435.3,788.1L437.5,789.2L443.2,789.6M435.3,788.1L438.3,784.2M468.5,771.4L477.2,768.4L486.4,770.3L488.8,769.0L488.2,766.2L496.0,767.5L496.1,768.8L504.8,770.3L507.6,771.0L512.2,771.2L517.7,769.5L522.7,770.3M469.4,771.4L473.5,773.8L475.3,778.8L483.4,780.5L485.3,783.5L491.9,783.7L500.9,785.5L509.0,784.0L513.8,781.6L512.9,780.3L517.0,779.6L521.4,776.6L528.6,776.0L524.0,774.2L522.7,770.3M522.7,770.3L527.5,769.3L530.2,763.8L535.2,763.4L539.8,764.7L542.6,770.3L548.3,771.9L548.8,774.2L556.0,772.9L554.6,774.5L552.9,779.0L549.4,779.4L549.6,782.9L548.5,784.2M548.5,784.2L547.6,783.1L543.5,784.8L541.5,785.2L536.9,788.5M540.0,792.6L544.2,791.1M506.6,822.9L503.9,820.3L501.7,819.6L497.4,821.0L495.8,821.2L493.9,823.5L490.4,821.8L489.9,818.3L487.3,818.3L489.5,811.8L487.1,810.3M495.8,821.2L499.3,825.0L501.1,828.1L503.9,831.3L505.7,835.0L505.7,835.9L505.9,840.0L503.0,842.4L500.2,843.6M493.9,823.5L492.1,825.0L492.8,826.6L494.3,829.8L495.8,829.0L500.6,830.4L500.7,833.1L502.2,836.1L505.7,835.9M502.2,836.1L497.2,836.5L496.5,837.8L497.2,841.1M492.1,825.0L488.2,826.3L487.1,828.5L489.3,832.8L488.6,835.0L490.4,839.6L489.7,843.6M492.1,850.8L493.9,852.1L495.8,851.4M487.1,810.3L484.9,812.1L482.9,814.5L481.9,817.0L479.6,818.3L479.7,821.6L478.3,823.3L477.7,824.4M471.6,822.4L471.4,819.7L470.0,817.0L470.5,814.0L473.1,814.5L473.1,815.8L477.9,816.4L475.7,819.0L477.7,820.3L478.3,823.3M433.3,818.8L437.5,817.5L436.6,813.6L438.5,811.0L442.1,807.5L444.9,805.2L444.5,802.1L446.6,802.8L444.0,798.4L449.5,796.9L451.0,796.9L453.2,799.1L452.6,804.3L457.1,806.7M457.1,806.7L462.4,809.0L466.1,810.8L470.0,811.0L470.0,813.8L465.7,813.4L461.1,811.9L455.2,809.3L457.1,806.7M471.3,812.1L472.9,810.4L476.6,811.2L477.3,812.9L473.1,813.2L471.4,812.7M476.6,811.2L480.8,808.4L484.5,808.2L487.1,810.3M510.3,859.7L513.6,861.2L517.5,860.3L519.5,857.7L520.7,854.9L524.2,855.1M567.5,867.7L567.5,879.8M536.1,880.4L538.2,880.0L538.0,880.8M303.9,797.6L304.5,800.2L305.2,803.0L301.0,803.9L300.8,805.4L297.6,807.3L291.6,809.5L291.6,812.1M283.8,811.4L291.6,811.4L291.6,814.5L285.5,814.5L285.5,819.2L283.6,820.1L283.5,823.3L276.3,823.3M291.6,812.1L298.8,816.4L309.4,823.7L313.5,826.1L313.7,827.6L315.3,827.4L318.3,826.6L321.4,824.0L329.7,819.2M298.8,816.4L295.6,816.6L297.3,832.2L297.8,834.1L290.5,834.1L286.4,833.9L285.1,835.4L280.9,832.0L277.2,833.1M285.1,835.4L286.6,839.8L282.4,839.5L276.8,839.8M282.4,839.5L282.4,841.1L280.0,842.6M276.6,837.6L280.0,837.2L282.2,838.0L280.0,838.3L276.6,838.5M286.6,839.8L292.3,842.4L292.9,843.9L292.3,848.8L290.3,849.1L288.6,847.1L288.1,846.0L287.0,844.3L284.6,844.5L283.1,846.2M288.6,847.1L286.4,850.1M292.3,848.8L293.8,852.1L293.8,854.7M292.9,843.9L297.5,843.6L298.0,840.8L299.9,838.3L303.9,836.5L308.0,835.0L314.1,834.3L315.3,831.5L315.3,827.4M297.5,843.6L302.4,844.9L302.4,853.6M302.4,844.9L302.4,842.4L307.6,842.3L309.3,842.4L312.0,840.8L311.7,839.5L309.4,838.0L308.0,835.0M311.7,839.5L314.2,841.1M307.6,842.3L308.5,848.0L309.8,851.6M309.3,842.4L310.5,851.2M314.2,841.1L312.6,851.0M314.2,841.1L315.0,837.8L320.5,838.7L326.0,838.2L332.7,837.4M332.7,837.4L336.2,831.5L335.2,823.8L335.2,820.1L329.7,819.2L325.1,813.8L325.8,807.1L325.1,806.5L328.8,801.1M335.2,820.1L351.8,826.6M325.1,806.5L321.4,800.0L322.9,794.3M353.7,803.9L353.7,822.0L375.6,822.0M353.7,822.0L353.7,825.7L351.8,825.7L351.8,833.7L349.1,837.8L349.8,842.4L351.1,846.7M332.7,837.4L333.6,838.7L334.5,840.2L336.2,844.5L336.2,848.9M333.6,838.7L331.9,844.3L329.3,849.9L325.7,850.8L323.4,854.0M336.2,848.9L342.6,846.2L349.8,842.4M336.2,848.9L334.3,853.6L337.5,858.8L331.9,858.8L328.4,858.8L325.7,858.6M337.5,858.8L341.9,856.4L341.9,854.7L349.1,855.3L354.6,853.2L358.1,853.4L351.1,846.7M351.1,846.7L357.4,845.0L362.9,844.7L367.3,841.1L368.8,843.9L370.4,845.2L372.1,841.0L374.9,836.3L375.6,832.2L378.4,829.4M374.9,836.3L379.5,835.7L383.2,837.8L385.7,839.6L387.0,839.5M385.7,839.6L384.6,842.4L386.8,842.4M386.8,842.4L386.5,844.3L388.7,846.2L394.2,848.0L396.1,848.0L390.5,853.6L385.0,855.5L384.8,855.6L383.2,857.7L383.2,864.4L384.3,866.1M384.8,855.6L380.4,856.6L373.9,854.7L372.1,852.9L370.3,850.3L368.4,848.4L370.4,845.2M373.9,854.7L370.3,855.1L364.7,856.0L362.0,854.7L358.1,853.4M370.3,855.1L372.1,859.7L370.3,862.9L370.1,864.8L377.1,868.7L379.8,871.6M364.7,856.0L364.7,858.8L362.2,865.5L363.8,864.8L370.1,864.8M362.2,865.5L361.0,867.9L361.4,871.1L362.0,875.0L364.2,878.2L368.2,880.4L370.3,880.6L371.6,884.3L376.7,884.7L382.1,882.4M363.8,864.8L364.4,867.4L362.9,871.1L361.4,871.1M364.2,878.2L360.9,878.7L359.9,880.2L359.9,884.8L362.5,885.6L361.0,887.8L357.7,884.5L354.2,883.7L351.8,883.4L351.8,887.1L348.1,887.1M351.8,883.4L348.7,883.7L347.8,876.5L343.5,875.9L340.0,878.0L338.2,873.9L331.6,873.9L330.1,873.7M341.9,856.4L341.0,859.2L340.2,863.8L337.5,867.0L337.1,870.2L334.1,872.0L331.2,871.3L329.7,872.2M331.9,858.8L334.1,861.4L333.4,867.5L329.3,868.5L328.1,870.2M325.7,861.0L328.4,861.0L328.4,858.8M371.6,884.3L371.2,888.9L373.6,892.7M368.2,880.4L368.4,888.9L363.3,890.8" fill="none" stroke="#3f3f3f" stroke-width="0.8" stroke-linejoin="round"/>
<path d="M12.6,820.6C15.5,821.6 19.5,824.3 22.4,827.8" fill="none" stroke="#2f3a39" stroke-width="1.7" stroke-linecap="round"/>
<path d="M-8.0,858.5C-6.7,857.0 -4.7,854.0 0.0,849.2C4.7,844.4 13.5,835.4 20.2,829.6C26.9,823.8 33.7,818.9 40.4,814.5C47.1,810.1 56.1,805.8 60.6,803.4C65.1,801.0 64.6,801.4 67.4,800.0C70.2,798.6 75.1,796.3 77.6,795.3C80.1,794.3 81.6,794.2 82.4,794.0" fill="none" stroke="#6d4f8c" stroke-width="2.90" stroke-linecap="round" opacity="0.7"/>
<path d="M-8.0,858.5C-6.7,857.0 -4.7,854.0 0.0,849.2C4.7,844.4 13.5,835.4 20.2,829.6C26.9,823.8 33.7,818.9 40.4,814.5C47.1,810.1 56.1,805.8 60.6,803.4C65.1,801.0 64.6,801.4 67.4,800.0C70.2,798.6 75.1,796.3 77.6,795.3C80.1,794.3 81.6,794.2 82.4,794.0" fill="none" stroke="#cdb2e6" stroke-width="1.90" stroke-linecap="round"/>
<path d="M-8.0,862.5C-6.7,861.0 -4.7,858.0 0.0,853.2C4.7,848.5 13.5,839.7 20.2,834.0C26.9,828.3 33.7,823.3 40.4,818.9C47.1,814.5 55.0,810.4 60.6,807.4C66.2,804.4 70.0,802.8 74.1,800.9C78.2,799.0 82.3,797.1 85.0,796.0C87.7,794.9 86.6,795.4 90.0,794.4C93.4,793.4 100.4,791.5 105.2,790.2C110.0,788.9 114.2,787.7 118.7,786.8C123.2,785.9 127.7,785.2 132.2,784.6C136.7,784.0 141.1,783.7 145.6,783.4C150.1,783.1 155.0,783.0 159.1,783.0C163.2,783.0 167.1,783.0 170.0,783.1C172.9,783.2 175.2,783.4 176.3,783.4" fill="none" stroke="#6d4f8c" stroke-width="2.00" stroke-linecap="round" opacity="0.7"/>
<path d="M-8.0,862.5C-6.7,861.0 -4.7,858.0 0.0,853.2C4.7,848.5 13.5,839.7 20.2,834.0C26.9,828.3 33.7,823.3 40.4,818.9C47.1,814.5 55.0,810.4 60.6,807.4C66.2,804.4 70.0,802.8 74.1,800.9C78.2,799.0 82.3,797.1 85.0,796.0C87.7,794.9 86.6,795.4 90.0,794.4C93.4,793.4 100.4,791.5 105.2,790.2C110.0,788.9 114.2,787.7 118.7,786.8C123.2,785.9 127.7,785.2 132.2,784.6C136.7,784.0 141.1,783.7 145.6,783.4C150.1,783.1 155.0,783.0 159.1,783.0C163.2,783.0 167.1,783.0 170.0,783.1C172.9,783.2 175.2,783.4 176.3,783.4" fill="none" stroke="#cdb2e6" stroke-width="1.00" stroke-linecap="round"/>
<path d="M-8.0,866.5C-6.7,865.0 -4.7,862.0 0.0,857.3C4.7,852.6 13.5,843.8 20.2,838.1C26.9,832.4 33.7,827.3 40.4,822.9C47.1,818.5 53.9,814.8 60.6,811.5C67.4,808.2 76.8,804.8 80.9,803.0C85.0,801.2 83.5,801.6 85.0,800.9C86.5,800.1 86.6,799.5 90.0,798.5C93.4,797.5 100.4,795.8 105.2,794.6C110.0,793.4 115.1,792.3 118.7,791.5C122.3,790.7 124.6,790.3 127.0,789.7C129.4,789.1 130.2,788.4 133.3,787.9C136.4,787.4 141.3,787.0 145.6,786.8C149.9,786.6 155.5,786.5 159.1,786.5C162.7,786.5 164.8,786.6 166.9,786.6C169.0,786.6 171.1,786.8 171.9,786.8" fill="none" stroke="#6d4f8c" stroke-width="2.00" stroke-linecap="round" opacity="0.7"/>
<path d="M-8.0,866.5C-6.7,865.0 -4.7,862.0 0.0,857.3C4.7,852.6 13.5,843.8 20.2,838.1C26.9,832.4 33.7,827.3 40.4,822.9C47.1,818.5 53.9,814.8 60.6,811.5C67.4,808.2 76.8,804.8 80.9,803.0C85.0,801.2 83.5,801.6 85.0,800.9C86.5,800.1 86.6,799.5 90.0,798.5C93.4,797.5 100.4,795.8 105.2,794.6C110.0,793.4 115.1,792.3 118.7,791.5C122.3,790.7 124.6,790.3 127.0,789.7C129.4,789.1 130.2,788.4 133.3,787.9C136.4,787.4 141.3,787.0 145.6,786.8C149.9,786.6 155.5,786.5 159.1,786.5C162.7,786.5 164.8,786.6 166.9,786.6C169.0,786.6 171.1,786.8 171.9,786.8" fill="none" stroke="#cdb2e6" stroke-width="1.00" stroke-linecap="round"/>
<path d="M-8.0,871.5C-6.7,870.0 -1.9,864.3 0.0,862.3C1.9,860.3 0.0,862.6 3.4,859.6C6.8,856.6 14.0,849.5 20.2,844.5C26.4,839.5 33.7,834.1 40.4,829.6C47.1,825.1 53.9,821.1 60.6,817.5C67.4,813.9 76.8,809.7 80.9,807.7C85.0,805.7 83.5,806.3 85.0,805.6C86.5,804.9 86.6,804.7 90.0,803.7C93.4,802.7 100.4,801.0 105.2,799.6C110.0,798.2 115.1,796.2 118.7,795.2C122.3,794.2 125.7,793.7 127.1,793.4" fill="none" stroke="#6d4f8c" stroke-width="2.15" stroke-linecap="round" opacity="0.7"/>
<path d="M-8.0,871.5C-6.7,870.0 -1.9,864.3 0.0,862.3C1.9,860.3 0.0,862.6 3.4,859.6C6.8,856.6 14.0,849.5 20.2,844.5C26.4,839.5 33.7,834.1 40.4,829.6C47.1,825.1 53.9,821.1 60.6,817.5C67.4,813.9 76.8,809.7 80.9,807.7C85.0,805.7 83.5,806.3 85.0,805.6C86.5,804.9 86.6,804.7 90.0,803.7C93.4,802.7 100.4,801.0 105.2,799.6C110.0,798.2 115.1,796.2 118.7,795.2C122.3,794.2 125.7,793.7 127.1,793.4" fill="none" stroke="#cdb2e6" stroke-width="1.15" stroke-linecap="round"/>
<path d="M-8.0,878.5C-6.7,877.3 -3.9,874.3 0.0,871.2C3.9,868.1 12.1,862.5 15.5,860.0C18.9,857.5 16.1,858.8 20.2,855.9C24.3,853.0 33.7,846.9 40.4,842.5C47.1,838.1 53.9,833.6 60.6,829.6C67.4,825.6 76.8,820.7 80.9,818.5C85.0,816.3 83.5,817.1 85.0,816.3C86.5,815.5 86.6,815.1 90.0,813.8C93.4,812.5 100.4,810.5 105.2,808.7C110.0,807.0 115.6,804.5 118.7,803.3C121.8,802.1 122.2,802.0 124.0,801.6C125.8,801.2 127.4,800.9 129.3,800.6C131.2,800.3 132.5,800.3 135.2,799.9C137.9,799.5 142.1,798.7 145.6,798.3C149.1,797.9 153.4,797.5 156.1,797.3C158.8,797.1 161.0,797.0 162.0,797.0" fill="none" stroke="#6d4f8c" stroke-width="2.20" stroke-linecap="round" opacity="0.7"/>
<path d="M-8.0,878.5C-6.7,877.3 -3.9,874.3 0.0,871.2C3.9,868.1 12.1,862.5 15.5,860.0C18.9,857.5 16.1,858.8 20.2,855.9C24.3,853.0 33.7,846.9 40.4,842.5C47.1,838.1 53.9,833.6 60.6,829.6C67.4,825.6 76.8,820.7 80.9,818.5C85.0,816.3 83.5,817.1 85.0,816.3C86.5,815.5 86.6,815.1 90.0,813.8C93.4,812.5 100.4,810.5 105.2,808.7C110.0,807.0 115.6,804.5 118.7,803.3C121.8,802.1 122.2,802.0 124.0,801.6C125.8,801.2 127.4,800.9 129.3,800.6C131.2,800.3 132.5,800.3 135.2,799.9C137.9,799.5 142.1,798.7 145.6,798.3C149.1,797.9 153.4,797.5 156.1,797.3C158.8,797.1 161.0,797.0 162.0,797.0" fill="none" stroke="#cdb2e6" stroke-width="1.20" stroke-linecap="round"/>
<path d="M-8.0,884.0C-6.7,883.0 -5.8,881.9 0.0,877.9C5.8,873.9 20.3,864.6 27.0,860.0C33.7,855.4 34.8,854.1 40.4,850.5C46.0,846.9 53.9,842.3 60.6,838.4C67.4,834.5 76.8,829.2 80.9,827.0C85.0,824.8 83.5,825.9 85.0,825.1C86.5,824.3 86.6,823.5 90.0,822.2C93.4,820.9 100.4,818.9 105.2,817.1C110.0,815.4 115.3,813.0 118.7,811.7C122.1,810.4 123.3,810.0 125.4,809.4C127.5,808.8 130.2,808.5 131.2,808.3" fill="none" stroke="#6d4f8c" stroke-width="1.95" stroke-linecap="round" opacity="0.7"/>
<path d="M-8.0,884.0C-6.7,883.0 -5.8,881.9 0.0,877.9C5.8,873.9 20.3,864.6 27.0,860.0C33.7,855.4 34.8,854.1 40.4,850.5C46.0,846.9 53.9,842.3 60.6,838.4C67.4,834.5 76.8,829.2 80.9,827.0C85.0,824.8 83.5,825.9 85.0,825.1C86.5,824.3 86.6,823.5 90.0,822.2C93.4,820.9 100.4,818.9 105.2,817.1C110.0,815.4 115.3,813.0 118.7,811.7C122.1,810.4 123.3,810.0 125.4,809.4C127.5,808.8 130.2,808.5 131.2,808.3" fill="none" stroke="#cdb2e6" stroke-width="0.95" stroke-linecap="round"/>
<path d="M317.0,766.0C317.8,765.8 318.0,766.0 321.5,764.7C325.0,763.4 333.1,760.0 337.9,758.4C342.7,756.8 346.3,756.1 350.5,755.2C354.7,754.4 358.9,753.8 363.1,753.3C367.3,752.8 371.6,752.5 375.8,752.3C380.0,752.1 384.2,752.0 388.4,752.0C392.6,752.0 396.8,752.1 401.0,752.3C405.2,752.5 409.4,752.8 413.6,753.3C417.8,753.8 422.1,754.5 426.3,755.2C430.5,755.9 434.7,756.7 438.9,757.7C443.1,758.8 447.3,760.0 451.5,761.5C455.7,763.0 459.9,764.8 464.1,766.6C468.3,768.4 472.6,770.1 476.8,772.2C481.0,774.3 485.5,776.9 489.4,779.2C493.3,781.5 496.7,783.2 500.0,786.1C503.3,789.0 505.4,792.3 509.4,796.8C513.4,801.3 519.2,806.8 524.1,812.9C529.0,819.0 533.9,826.1 538.8,833.5C543.7,840.9 548.6,849.2 553.5,857.1C558.4,865.0 564.8,875.0 568.2,880.6C571.6,886.2 572.4,887.9 574.1,891.0C575.8,894.1 577.8,897.7 578.5,899.0" fill="none" stroke="#7d5aa0" stroke-width="1.6" opacity="0.5"/>
<path d="M317.0,766.0C317.8,765.8 318.0,766.0 321.5,764.7C325.0,763.4 333.1,760.0 337.9,758.4C342.7,756.8 346.3,756.1 350.5,755.2C354.7,754.4 358.9,753.8 363.1,753.3C367.3,752.8 371.6,752.5 375.8,752.3C380.0,752.1 384.2,752.0 388.4,752.0C392.6,752.0 396.8,752.1 401.0,752.3C405.2,752.5 409.4,752.8 413.6,753.3C417.8,753.8 422.1,754.5 426.3,755.2C430.5,755.9 434.7,756.7 438.9,757.7C443.1,758.8 447.3,760.0 451.5,761.5C455.7,763.0 459.9,764.8 464.1,766.6C468.3,768.4 472.6,770.1 476.8,772.2C481.0,774.3 485.5,776.9 489.4,779.2C493.3,781.5 496.7,783.2 500.0,786.1C503.3,789.0 505.4,792.3 509.4,796.8C513.4,801.3 519.2,806.8 524.1,812.9C529.0,819.0 533.9,826.1 538.8,833.5C543.7,840.9 548.6,849.2 553.5,857.1C558.4,865.0 564.8,875.0 568.2,880.6C571.6,886.2 572.4,887.9 574.1,891.0C575.8,894.1 577.8,897.7 578.5,899.0" fill="none" stroke="#dcc8f0" stroke-width="0.75"/>
<path d="M619.5,895.0C621.7,892.9 627.7,886.9 632.5,882.3C637.3,877.7 645.8,870.0 648.5,867.5M623.0,895.0C625.2,892.9 631.2,886.9 636.0,882.3C640.8,877.7 649.3,870.0 652.0,867.5M626.5,895.0C628.7,892.9 634.7,886.9 639.5,882.3C644.3,877.7 652.8,870.0 655.5,867.5M630.0,895.0C632.2,892.9 638.2,886.9 643.0,882.3C647.8,877.7 656.3,870.0 659.0,867.5M633.5,895.0C635.7,892.9 641.7,886.9 646.5,882.3C651.3,877.7 659.8,870.0 662.5,867.5M637.0,895.0C639.2,892.9 645.2,886.9 650.0,882.3C654.8,877.7 663.3,870.0 666.0,867.5" fill="none" stroke="#7d5aa0" stroke-width="2.1" opacity="0.7"/>
<path d="M619.5,895.0C621.7,892.9 627.7,886.9 632.5,882.3C637.3,877.7 645.8,870.0 648.5,867.5M623.0,895.0C625.2,892.9 631.2,886.9 636.0,882.3C640.8,877.7 649.3,870.0 652.0,867.5M626.5,895.0C628.7,892.9 634.7,886.9 639.5,882.3C644.3,877.7 652.8,870.0 655.5,867.5M630.0,895.0C632.2,892.9 638.2,886.9 643.0,882.3C647.8,877.7 656.3,870.0 659.0,867.5M633.5,895.0C635.7,892.9 641.7,886.9 646.5,882.3C651.3,877.7 659.8,870.0 662.5,867.5M637.0,895.0C639.2,892.9 645.2,886.9 650.0,882.3C654.8,877.7 663.3,870.0 666.0,867.5" fill="none" stroke="#cbb0e4" stroke-width="1.05"/>
<path d="M75.8,789.9L89.0,789.9L82.4,798.5Z" fill="#ffffff"/>
<path d="M121.0,789.5L133.2,789.5L127.1,797.9Z" fill="#ffffff"/>
<path d="M123.7,799.6L134.9,799.6L129.3,807.4Z" fill="#ffffff"/>
<path d="M125.4,805.0L136.9,805.0L131.2,812.7Z" fill="#ffffff"/>
<path d="M155.8,798.9L168.2,798.9L162.0,790.9Z" fill="#ffffff"/>
<path d="M166.7,783.6L177.2,783.6L171.9,792.2Z" fill="#ffffff"/>
<path d="M170.3,781.9L182.1,781.9L176.2,789.7Z" fill="#ffffff"/>
<path d="M310.7,763.0L321.7,763.0L316.2,771.0Z" fill="#ffffff"/>
</g>
<clipPath id="gc"><rect x="650.2" y="495.8" width="598.5" height="395.2"/></clipPath>
<clipPath id="gd"><circle cx="928.3" cy="920.9" r="233.0"/></clipPath>
<g clip-path="url(#gc)">
<circle cx="928.3" cy="920.9" r="233.0" fill="#161616"/>
<g clip-path="url(#gd)">
<path d="M832.5,819.1L830.1,824.3L829.0,828.0L827.9,831.7L828.5,837.4L830.6,843.1L832.3,845.8L835.6,847.4L838.3,848.1L843.8,846.6L848.1,846.6L850.7,843.1L852.4,838.2L855.8,836.3L861.4,835.1L865.2,835.9L865.3,838.5L862.3,842.7L861.1,847.0L859.1,848.9L855.5,849.5L852.2,849.6L848.8,849.7L848.5,852.0L850.0,855.5L845.5,856.5L843.1,862.4L840.5,859.7L837.9,857.1L833.7,856.1L828.2,857.9L824.9,856.7L821.6,855.5L816.9,852.8L814.1,851.1L811.4,849.5L808.8,848.4L806.3,847.4L802.4,842.7L801.3,839.3L803.1,835.1L802.1,830.2L799.1,824.6L796.2,820.6L796.2,816.2L794.4,812.2L791.7,808.7L791.2,803.7L791.8,799.9L789.2,798.3L787.6,800.9L787.4,804.4L788.5,807.9L789.1,812.2L789.9,817.7L790.1,820.8L790.4,823.9L791.9,828.7L790.3,830.2L789.0,826.9L786.7,823.5L787.4,818.8L785.1,815.8L782.9,812.6L785.8,809.7L784.2,805.5L784.0,801.2L784.1,798.5L784.3,795.7L787.3,795.4L790.4,795.0L789.8,795.7L792.3,797.1L795.0,798.5L797.7,799.9L801.4,799.9L805.2,799.9L805.8,798.1L808.2,798.1L810.5,798.1L813.3,802.3L813.6,805.8L816.7,807.9L819.7,805.1L822.7,805.1L824.5,809.4L826.5,813.3L826.8,817.3L829.6,818.2ZM859.1,848.9L858.2,854.3L855.7,857.1L859.0,857.7L862.8,857.4L866.5,857.1L871.8,857.3L876.9,860.6L876.1,864.5L875.3,868.5L874.7,872.3L874.1,876.0L876.7,880.4L880.5,884.5L885.2,884.9L890.0,882.2L895.5,883.0L898.6,885.9L896.5,891.5L894.6,888.1L890.3,884.7L887.1,887.7L886.2,891.3L881.9,890.1L878.0,887.7L874.1,886.5L869.6,881.6L865.9,878.8L863.1,873.3L859.6,868.7L855.2,867.7L850.9,865.3L845.8,864.5L843.1,862.4L845.5,856.5L850.0,855.5L848.5,852.0L848.8,849.7L852.2,849.6L855.5,849.5ZM925.8,692.7L926.9,693.2L928.0,693.8L929.2,694.3L930.7,694.6L932.2,694.8L933.7,694.9L935.2,694.9L936.7,695.0L938.2,695.0L940.2,695.7L942.3,696.4L944.0,697.5L945.8,698.7L947.7,699.9L949.7,701.3L952.3,702.0L954.9,702.7L954.0,703.7L953.1,704.9L955.5,707.2L958.7,709.7L962.1,712.4L966.6,715.2L969.1,716.2L971.7,717.3L974.1,718.1L976.5,718.9L979.5,719.3L980.7,718.5L979.6,716.1L979.6,713.3L978.6,711.5L977.5,709.7L979.1,709.1L980.5,708.5L981.1,707.6L981.6,706.6L982.0,705.6L983.2,705.2L984.4,704.9L985.5,704.5L986.5,704.1L986.8,703.4L987.0,702.7L986.2,701.5L984.1,701.1L981.9,700.6L982.3,700.1L982.7,699.7L978.5,698.1L977.1,697.2L975.6,696.4L971.8,694.8L966.9,693.4L965.2,692.8L963.3,692.2L960.6,691.4L959.9,691.2L959.2,690.9L958.4,690.7L957.5,690.5L956.6,690.4L955.7,690.3L954.8,690.2L953.9,690.2L953.1,690.1L952.3,690.1L951.5,690.0L950.5,689.9L949.4,689.8L948.4,689.7L947.4,689.7L946.4,689.6L945.4,689.5L944.8,689.5L944.2,689.5L943.5,689.4L942.9,689.4L942.3,689.4L942.0,689.5L941.7,689.5L941.4,689.6L941.0,689.7L940.6,689.7L940.2,689.8L939.6,689.8L939.1,689.9L938.5,689.9L937.9,690.0L937.3,690.0L936.7,690.1L936.0,690.1L935.3,690.1L934.6,690.1L933.9,690.2L933.6,690.4L933.3,690.6L932.6,690.8L931.9,690.9L931.1,691.0L930.3,691.1L931.1,691.3L931.8,691.4L930.9,691.8L929.9,692.2L928.9,692.3L927.9,692.5L926.9,692.6ZM997.5,708.9L997.3,708.1L997.1,707.4L999.2,708.0L1001.4,708.5L1001.9,708.1L1002.4,707.7L1002.9,707.5L1003.5,707.2L1006.3,708.0L1009.7,709.4L1011.3,710.8L1011.0,711.3L1010.6,711.9L1010.0,712.2L1009.4,712.6L1007.6,712.2L1005.8,711.7L1004.8,711.7L1003.8,711.7L1002.8,710.6L1001.1,710.2L999.4,709.9L1000.1,709.2L998.8,709.0ZM872.7,834.0L875.8,832.1L878.9,830.2L883.8,829.1L889.2,829.5L894.6,832.1L900.1,834.4L905.6,836.6L908.9,838.5L912.3,840.4L907.3,841.6L903.1,841.7L898.9,841.8L901.0,838.9L896.1,837.4L890.7,834.7L885.3,832.9L880.6,831.4L876.8,832.9ZM911.0,847.4L914.2,847.7L917.5,848.1L919.1,846.6L915.7,842.0L918.7,842.0L921.8,842.0L925.0,842.2L928.3,842.4L931.4,844.5L934.5,846.6L930.2,847.7L924.4,850.1L921.7,849.7L918.6,848.1L914.8,847.7ZM896.4,847.5L900.2,847.9L904.0,848.3L902.0,849.7L897.4,849.7ZM939.1,847.2L944.9,847.4L944.5,848.9L939.1,848.9ZM899.3,816.2L902.9,816.9L902.1,818.8ZM898.2,822.1L899.8,825.4L897.6,825.0ZM914.3,837.0L916.9,836.3L915.8,837.8ZM960.6,877.6L964.5,877.2L964.2,880.0L960.6,880.0ZM898.6,885.9L901.0,888.5L904.3,883.2L906.3,878.4L909.2,876.0L912.8,875.4L916.3,874.8L919.7,872.9L923.1,870.9L921.9,876.4L924.3,880.4L921.9,883.6L924.7,881.2L925.9,878.0L927.1,874.8L928.3,871.7L934.3,875.6L940.3,878.2L944.3,879.1L948.3,880.0L952.2,878.0L956.2,877.8L960.2,877.6L964.2,882.4L968.3,886.5L974.4,892.5L980.4,896.5L984.4,896.5L988.3,896.5L994.2,898.2L1000.1,901.8L1004.0,904.6L1006.0,909.1L1008.0,913.6L1008.0,917.2L1008.0,920.9L1013.7,922.9L1017.5,923.7L1022.1,925.4L1026.7,927.0L1030.3,931.5L1034.9,932.1L1039.3,932.7L1044.7,932.3L1049.8,935.9L1054.8,940.4L1057.6,941.4L1060.4,942.4L1061.0,946.3L1061.5,950.1L1060.9,953.7L1060.3,957.3L1057.5,960.8L1054.7,964.2L1050.8,969.3L1046.9,973.3L1045.6,977.3L1044.2,981.2L1043.2,986.1L1042.1,991.0L1039.9,995.8L1037.8,1000.6L1035.4,1004.4L1033.0,1008.2L1029.0,1011.9L1024.7,1012.5L1020.4,1013.1L1016.8,1014.4L1013.2,1015.7L1009.2,1019.0L1005.2,1022.3L1004.3,1026.3L1003.4,1030.3L1000.3,1033.9L997.3,1037.4L993.3,1041.3L989.2,1045.1L986.2,1048.1L983.2,1051.2L977.8,1054.2L974.6,1053.5L971.5,1052.9L967.1,1051.2L968.6,1054.5L970.1,1057.9L968.7,1061.1L967.4,1064.3L962.8,1065.4L958.1,1066.5L953.5,1067.5L952.7,1070.4L951.9,1073.1L947.8,1073.5L943.6,1073.8L947.2,1078.3L944.6,1079.8L942.1,1081.3L941.2,1085.7L938.3,1087.1L935.4,1088.5L939.3,1092.7L936.3,1096.1L933.5,1099.4L932.1,1102.0L930.8,1104.5L932.5,1105.8L935.8,1108.6L938.8,1111.3L935.3,1111.9L931.8,1112.5L928.9,1111.5L925.9,1110.6L922.3,1108.2L918.4,1105.8L916.2,1102.6L913.9,1099.4L913.5,1095.4L913.1,1091.3L914.9,1088.5L916.8,1085.7L917.2,1081.3L917.7,1076.8L917.1,1073.8L916.5,1070.7L916.7,1066.7L917.0,1062.7L918.5,1059.5L920.0,1056.2L921.6,1052.0L923.2,1047.8L923.1,1042.6L923.0,1037.4L924.1,1032.7L925.3,1027.9L926.5,1023.0L926.8,1017.5L927.2,1011.9L927.4,1006.3L927.5,1000.6L927.1,997.3L926.8,994.1L922.5,990.2L918.6,988.2L914.6,986.3L910.7,983.8L906.7,981.2L903.5,976.5L901.6,972.9L899.7,969.3L897.1,965.4L894.4,961.4L892.3,957.3L890.2,953.3L886.1,947.3L884.4,943.4L882.8,939.6L886.7,934.7L887.9,931.1L883.9,929.8L885.8,924.2L887.8,918.9L891.9,915.6L893.9,910.7L898.0,905.5L898.0,902.0L898.0,898.6L898.5,893.3L896.5,891.5ZM1091.1,780.7L1088.3,776.2L1086.5,774.9L1084.5,771.4L1082.4,768.0L1079.7,765.0L1077.1,762.0L1077.0,759.9L1079.0,760.2L1080.8,760.5L1082.1,760.5L1083.3,760.5L1084.4,760.7L1085.5,760.8L1083.2,757.6L1079.3,753.3L1074.9,749.9L1072.7,749.0L1070.4,748.0L1068.8,746.7L1069.2,746.1L1069.6,745.6L1071.7,746.1L1068.7,743.5L1069.8,743.7L1070.8,744.0L1069.7,741.9L1067.7,740.1L1067.7,739.4L1067.7,738.8L1066.0,737.0L1063.6,734.8L1063.5,734.2L1063.3,733.6L1063.1,732.9L1060.1,730.5L1057.5,728.9L1052.5,725.5L1051.8,724.7L1051.1,724.0L1055.1,726.6L1058.3,728.9L1061.5,731.2L1063.6,732.4L1062.8,731.4L1063.7,731.9L1064.6,732.4L1064.0,731.8L1063.4,731.2L1063.1,731.0L1062.9,730.7L1063.9,731.4L1060.9,729.3L1058.1,727.4L1055.2,725.5L1053.1,724.1L1055.0,725.4L1053.2,724.2L1050.5,722.5L1047.4,720.7L1046.2,719.9L1045.6,719.6L1045.0,719.2L1044.2,718.8L1043.5,718.4L1042.1,717.6L1042.5,717.8L1042.9,718.0L1044.0,718.7L1045.0,719.3L1043.0,718.1L1039.5,716.1L1034.1,713.3L1031.3,711.9L1028.4,710.5L1025.3,709.1L1023.6,708.3L1024.3,708.6L1024.9,708.9L1028.6,710.6L1031.0,711.7L1033.3,712.9L1035.5,714.0L1037.6,715.2L1042.2,717.7L1043.8,718.6L1045.5,719.5L1048.2,721.2L1052.2,723.7L1056.6,726.6L1057.3,727.2L1058.0,727.7L1059.9,729.1L1059.6,729.1L1056.9,727.3L1051.5,724.0L1046.9,721.2L1044.9,720.1L1047.0,721.6L1048.7,723.1L1048.0,723.1L1044.5,721.2L1039.1,718.1L1034.0,715.2L1031.9,713.7L1031.0,713.0L1030.2,712.4L1028.9,711.5L1025.7,709.7L1021.5,707.7L1017.0,705.6L1013.4,704.1L1011.6,703.4L1009.8,702.7L1008.9,702.3L1008.0,702.0L1007.2,701.7L1006.4,701.4L1005.2,701.0L1003.9,700.5L1003.4,700.3L1003.8,700.5L1004.2,700.6L1005.1,700.9L1005.9,701.2L1008.1,702.0L1008.3,702.1L1008.4,702.1L1008.7,702.2L1009.0,702.3L1010.0,702.7L1010.9,703.0L1011.7,703.3L1012.3,703.6L1015.9,705.0L1017.1,705.5L1018.3,706.0L1018.6,706.1L1018.9,706.2L1018.6,706.1L1018.3,706.0L1022.4,707.7L1026.5,709.6L1026.2,709.5L1025.9,709.3L1023.5,708.2L1023.4,708.2L1023.2,708.1L1018.7,706.2L1017.1,705.5L1015.5,704.8L1015.4,704.8L1011.5,703.3L1007.6,701.8L1007.2,701.7L1007.5,701.8L1007.8,701.9L1011.4,703.2L1008.0,701.9L1006.5,701.4L1005.1,700.9L1003.6,700.4L1002.1,699.9L999.3,699.0L998.4,698.7L997.4,698.4L996.4,698.1L994.0,697.3L991.5,696.6L990.6,696.4L990.2,696.3L989.7,696.1L989.2,696.0L988.6,695.8L987.9,695.6L988.0,695.7L985.6,695.1L981.6,694.1L976.0,692.8L972.7,692.2L972.1,692.1L971.4,691.9L973.6,692.4L975.8,692.8L978.8,693.4L981.9,694.1L981.5,694.0L977.3,693.1L973.3,692.3L969.0,691.5L968.1,691.3L967.2,691.2L966.2,691.0L965.1,690.8L961.4,690.3L959.6,690.0L957.7,689.8L955.1,689.4L952.6,689.2L950.6,689.0L948.7,688.8L947.3,688.7L945.9,688.6L944.5,688.5L943.2,688.4L941.9,688.3L940.6,688.2L939.3,688.2L938.0,688.1L936.5,688.0L935.0,688.0L933.6,688.0L932.4,687.9L931.1,687.9L930.0,687.9L928.8,687.9L927.6,687.9L926.3,687.9L924.6,687.9L925.8,687.9L927.0,687.9L928.3,687.9L926.5,687.9L924.7,687.9L923.2,688.0L921.7,688.0L920.2,688.0L918.7,688.1L917.3,688.2L915.8,688.2L914.4,688.3L913.0,688.4L911.4,688.5L909.7,688.6L908.1,688.8L906.0,689.0L903.9,689.2L902.3,689.4L900.6,689.6L898.8,689.8L898.3,689.8L896.5,690.1L894.8,690.3L893.1,690.6L892.5,690.7L892.0,690.7L890.5,691.0L889.1,691.2L887.3,691.5L885.6,691.8L883.9,692.2L882.2,692.5L879.1,693.2L876.0,693.8L874.8,694.1L873.6,694.4L872.5,694.7L871.4,695.0L868.6,695.7L865.7,696.5L864.2,696.9L862.8,697.3L861.8,697.6L860.8,697.9L859.8,698.2L858.9,698.5L858.6,698.6L858.2,698.7L857.9,698.8L856.8,699.1L855.7,699.5L854.7,699.8L853.7,700.2L852.2,700.7L850.7,701.2L849.2,701.7L846.8,702.6L844.3,703.6L842.6,704.2L840.9,704.9L839.2,705.6L837.8,706.2L836.4,706.8L835.0,707.4L833.3,708.1L831.7,708.9L830.1,709.6L832.1,708.7L834.1,707.8L835.1,707.4L836.1,706.9L835.0,707.4L834.1,707.8L830.0,709.6L826.0,711.6L826.1,711.5L826.2,711.4L826.5,711.3L825.6,711.7L824.9,712.1L824.5,712.3L824.1,712.5L825.0,712.0L826.0,711.6L827.0,711.1L828.3,710.5L829.6,709.9L826.6,711.3L823.6,712.7L821.3,713.9L819.0,715.1L816.0,716.8L814.2,717.8L812.4,718.7L813.1,718.3L811.5,719.3L810.0,720.2L815.7,716.9L819.1,715.1L822.5,713.3L825.5,711.8L828.6,710.3L830.8,709.3L831.9,708.8L833.1,708.3L833.2,708.2L833.4,708.1L835.1,707.4L835.8,707.1L836.5,706.8L837.2,706.4L840.1,705.3L842.9,704.1L840.5,705.1L838.1,706.1L839.4,705.5L840.7,705.0L844.3,703.6L846.4,702.8L848.6,702.0L850.6,701.2L852.6,700.5L854.9,699.8L857.2,699.0L857.2,699.0L857.4,699.0L858.2,698.7L859.2,698.4L859.8,698.2L860.6,698.0L857.4,698.9L854.2,700.0L851.4,701.0L848.1,702.1L844.8,703.4L840.7,705.0L838.4,706.0L835.9,707.0L833.3,708.1L833.4,708.1L833.6,708.0L833.4,708.1L833.4,708.1L833.5,708.1L835.6,707.2L837.7,706.2L842.0,704.5L843.9,703.7L845.0,703.3L843.5,703.9L845.7,703.0L848.0,702.2L847.7,702.3L841.4,704.7L834.3,707.7L830.4,709.4L830.4,709.5L834.6,707.6L839.5,705.5L842.1,704.4L844.8,703.4L847.3,702.4L853.3,700.3L856.7,699.2L857.3,699.0L862.1,697.5L867.4,696.0L872.4,694.7L872.8,694.6L878.2,693.4L883.0,692.3L889.0,691.2L889.6,691.1L881.4,692.7L875.0,694.1L869.8,695.4L864.6,696.8L870.1,695.3L872.9,694.6L875.9,693.9L868.2,695.8L861.4,697.7L853.5,700.2L853.6,700.2L848.8,701.9L847.4,702.4L849.8,701.5L852.3,700.6L857.0,699.1L865.4,696.5L872.8,694.6L880.8,692.8L889.2,691.2L898.4,689.8L907.9,688.8L923.1,688.0L925.0,687.9L931.4,687.9L945.7,688.6L959.8,690.0L966.8,691.1L976.8,693.0L972.6,692.1L963.7,690.6L953.7,689.3L948.0,688.7L941.3,688.3L939.3,688.2L948.6,688.8L982.2,694.2L996.7,698.2L1008.2,702.0L1044.6,719.0L1034.8,713.7L1048.9,721.5L1048.9,721.6L1053.7,724.5L1062.1,730.2L1060.3,728.9L1066.9,733.6L1073.5,738.7L1080.4,744.4L1095.6,758.7L1103.9,767.7L1104.3,768.2L1113.3,779.3L1109.0,773.8L1109.8,774.8L1116.4,783.4L1128.3,801.4L1139.7,823.0L1147.6,842.3L1154.8,866.1L1156.9,875.8L1152.5,857.4L1149.2,846.9L1140.8,825.4L1129.7,803.7L1124.8,795.7L1119.8,788.2L1107.4,771.9L1094.4,757.5L1083.4,747.0L1079.4,743.5L1075.7,740.5L1069.9,735.8L1064.3,731.7L1068.3,734.6L1083.3,746.9L1088.2,751.4L1082.2,745.9L1076.3,740.9L1073.0,738.3L1073.4,738.6L1070.8,736.5L1069.0,735.2L1075.8,740.5L1083.8,747.4L1088.0,751.2L1092.8,755.9L1099.5,762.9L1106.9,771.3L1112.3,778.0L1117.4,784.8L1124.1,794.5L1129.2,802.9L1133.4,810.3L1136.2,815.8L1139.0,821.5L1141.7,827.4L1144.3,833.5L1147.4,841.7L1150.3,850.3L1151.6,854.5L1153.5,861.2L1152.3,856.6L1150.4,850.5L1148.7,845.3L1146.9,840.3L1144.6,834.3L1142.6,829.5L1140.6,824.8L1138.7,820.8L1136.9,817.0L1133.8,811.1L1130.7,805.4L1127.9,800.7L1125.1,796.2L1122.6,792.3L1125.5,796.8L1127.8,800.5L1128.3,801.4L1125.9,797.4L1122.6,792.4L1123.1,793.0L1123.4,793.6L1123.1,793.1L1121.2,790.2L1120.1,788.6L1121.5,790.6L1122.8,792.6L1124.1,794.7L1125.4,796.7L1126.2,797.9L1126.8,798.9L1127.4,799.9L1125.0,796.0L1125.0,796.0L1126.2,798.0L1127.4,799.9L1127.4,799.9L1126.5,798.4L1124.1,794.6L1121.7,790.9L1122.2,791.6L1123.8,794.1L1126.0,797.6L1128.5,801.7L1130.1,804.5L1132.2,808.2L1130.6,805.3L1132.0,807.8L1133.9,811.3L1133.9,811.3L1133.1,809.9L1129.9,804.1L1127.2,799.6L1130.3,804.8L1131.9,807.7L1131.6,807.1L1133.4,810.3L1136.0,815.3L1138.4,820.2L1141.9,827.8L1144.3,833.6L1146.6,839.4L1147.8,842.8L1148.9,846.0L1150.0,849.3L1151.1,852.6L1152.0,855.7L1152.8,858.5L1153.5,861.2L1153.9,862.7L1154.3,864.2L1154.6,865.3L1153.2,860.0L1151.4,853.8L1149.5,847.7L1148.2,844.0L1146.9,840.3L1145.2,835.7L1143.3,831.2L1141.7,827.5L1140.1,823.8L1137.7,818.7L1136.1,815.6L1134.6,812.5L1132.4,808.5L1129.4,803.2L1131.1,806.2L1132.8,809.2L1131.2,806.3L1129.0,802.6L1126.3,798.1L1126.4,798.2L1125.7,797.1L1122.8,792.7L1119.2,787.3L1115.4,782.1L1112.6,778.4L1112.8,778.6L1112.9,778.8L1114.8,781.3L1114.3,780.6L1113.7,779.8L1115.4,782.1L1114.9,781.3L1114.3,780.6L1110.7,775.9L1107.6,772.1L1106.4,770.6L1105.1,769.1L1104.8,768.8L1102.9,766.6L1102.4,766.0L1101.8,765.4L1100.5,764.0L1099.3,762.6L1098.7,762.0L1100.1,763.5L1100.2,763.6L1100.3,763.8L1099.3,762.7L1098.1,761.3L1096.8,760.0L1093.7,756.8L1092.9,756.0L1092.1,755.2L1091.2,754.3L1090.3,753.5L1088.7,751.9L1084.4,747.9L1082.0,745.8L1082.6,746.3L1083.1,746.8L1084.7,748.2L1086.3,749.6L1088.4,751.6L1088.7,751.9L1090.7,753.8L1091.6,754.7L1092.4,755.5L1089.9,753.0L1087.8,751.0L1087.4,750.7L1087.2,750.5L1091.0,754.1L1095.0,758.1L1097.9,761.2L1099.6,763.0L1102.0,765.6L1102.6,766.3L1103.4,767.2L1104.4,768.3L1105.3,769.4L1104.3,768.2L1104.2,768.1L1105.8,770.0L1105.4,769.5L1108.0,772.6L1109.8,774.8L1111.7,777.2L1112.1,777.6L1113.5,779.6L1115.5,782.2L1115.8,782.6L1114.8,781.3L1112.4,778.1L1109.6,774.6L1107.8,772.4L1106.0,770.2L1102.3,765.9L1100.0,763.5L1097.9,761.4L1095.4,759.0L1091.7,755.6L1092.3,756.4L1090.3,754.4L1090.7,755.3L1093.6,758.2L1096.3,760.5L1099.8,764.1L1101.3,765.3L1102.7,766.8L1104.5,768.7L1106.2,770.5L1107.2,771.8L1105.5,769.9L1107.3,772.1L1109.1,774.3L1110.6,776.2L1111.6,777.8L1109.7,775.2L1107.7,772.7L1106.0,770.8L1104.4,769.3L1102.0,767.1L1100.4,765.6L1098.0,763.5L1094.9,760.5L1092.5,758.5L1091.6,757.9L1092.5,759.6L1093.5,761.7L1091.8,760.8L1090.8,760.5L1092.7,763.5L1094.3,765.3L1094.7,766.8L1094.9,768.7L1096.9,772.7L1099.4,775.2L1100.6,778.1L1100.6,780.0L1100.9,781.3L1099.7,781.5L1098.4,781.7L1098.4,783.6L1096.1,782.0L1093.7,780.0L1092.6,780.7ZM1098.3,784.6L1098.9,784.3L1101.2,785.3L1103.3,786.3L1105.0,786.9L1105.5,785.8L1105.9,784.6L1106.4,783.0L1106.7,781.3L1107.8,781.1L1108.7,780.9L1109.6,780.7L1110.2,780.2L1110.7,779.7L1112.1,780.7L1114.2,783.9L1117.9,788.9L1118.6,790.6L1121.0,793.3L1121.7,793.8L1122.5,794.3L1123.6,795.4L1124.6,796.4L1126.9,799.9L1128.0,801.2L1128.9,802.6L1129.1,802.6L1127.0,799.2L1125.0,796.1L1123.9,794.3L1124.5,795.2L1125.4,796.7L1126.3,798.1L1126.7,798.7L1127.0,799.2L1127.3,799.7L1127.6,800.2L1126.8,798.8L1125.9,797.5L1126.3,798.1L1129.0,802.6L1130.9,805.8L1132.7,809.1L1134.6,812.6L1136.4,816.1L1138.1,819.6L1139.8,823.2L1141.4,826.7L1143.0,830.3L1145.3,836.0L1146.8,839.9L1148.2,843.8L1149.8,848.5L1151.3,853.3L1152.4,857.0L1153.9,862.7L1154.4,864.5L1154.8,866.3L1155.8,870.6L1156.6,874.4L1156.2,872.4L1155.8,870.4L1155.6,869.7L1155.4,869.0L1155.0,867.1L1154.5,865.2L1156.0,871.7L1157.2,877.6L1158.3,883.6L1159.0,888.4L1159.6,893.1L1160.4,900.2L1160.8,904.9L1161.0,909.6L1161.2,913.0L1161.3,916.4L1161.3,920.9L1161.3,925.3L1161.0,931.7L1160.8,936.0L1160.5,940.3L1160.1,944.5L1159.6,948.8L1159.1,953.1L1158.4,957.4L1157.7,961.8L1156.9,966.1L1155.8,971.4L1154.5,976.7L1153.4,980.9L1152.3,985.1L1151.2,988.8L1150.0,992.6L1148.8,996.1L1147.6,999.7L1145.6,1005.0L1143.2,1010.9L1140.7,1016.7L1139.2,1020.0L1137.6,1023.3L1134.8,1028.8L1132.9,1032.3L1131.0,1035.8L1129.1,1039.1L1127.1,1042.4L1125.3,1045.3L1123.5,1048.1L1122.4,1049.8L1121.3,1051.4L1121.2,1051.6L1121.1,1051.7L1121.0,1051.8L1121.0,1051.9L1120.3,1052.9L1119.6,1053.9L1120.3,1052.9L1120.9,1051.9L1122.8,1049.0L1124.7,1046.1L1127.3,1041.8L1129.8,1037.4L1132.6,1032.1L1135.3,1026.7L1137.6,1021.8L1139.7,1016.9L1141.8,1011.9L1143.5,1007.2L1145.1,1002.5L1146.6,997.7L1148.0,992.9L1149.0,989.0L1150.0,985.1L1151.5,980.5L1152.8,976.0L1154.1,971.3L1155.1,966.7L1156.0,962.0L1156.9,957.3L1157.5,951.3L1157.9,945.3L1158.2,939.2L1157.9,935.1L1157.5,931.1L1157.3,927.4L1157.0,923.7L1157.2,920.3L1157.4,916.8L1157.4,912.8L1157.3,908.7L1157.0,904.6L1156.2,902.6L1155.1,903.0L1153.7,903.4L1152.2,897.8L1151.2,896.3L1150.2,894.9L1149.1,895.3L1148.0,895.7L1146.2,897.8L1144.9,899.6L1143.6,901.4L1142.0,900.6L1140.3,899.8L1138.7,900.6L1137.0,901.4L1134.4,903.0L1132.3,900.2L1130.1,897.4L1127.2,895.3L1125.2,892.9L1123.1,890.5L1121.1,886.5L1119.5,882.4L1115.8,877.2L1112.7,872.5L1110.2,867.7L1107.1,861.8L1108.3,856.7L1107.8,852.8L1107.1,848.9L1104.9,843.1L1102.3,838.2L1101.8,834.9L1101.3,831.7L1100.9,826.1L1101.0,822.4L1100.9,818.8L1101.1,815.7L1101.3,812.6L1102.4,810.6L1103.3,808.7L1103.4,805.1L1101.8,800.9L1099.8,795.7L1100.1,793.7L1100.2,791.6L1100.1,788.9ZM971.0,692.0L973.7,692.5L976.4,693.0L981.7,694.1L982.0,694.2L982.2,694.2L978.9,693.5L975.5,692.7L975.5,692.7L975.5,692.7L970.8,691.8L970.0,691.7L969.3,691.5L968.5,691.4L967.7,691.3L967.5,691.2L967.2,691.2L967.0,691.1L966.7,691.1L967.3,691.2L967.8,691.3L968.2,691.4L968.7,691.4L968.9,691.5L969.1,691.5L969.3,691.6L970.1,691.8ZM1110.3,777.5L1110.5,777.1L1110.6,776.8L1110.6,776.5L1112.6,779.1L1114.5,781.7L1113.4,780.7L1111.3,778.7ZM1100.7,768.3L1100.8,767.4L1103.4,770.5L1106.0,773.6L1106.0,774.6L1103.1,771.1ZM1096.7,763.5L1095.9,762.0L1099.9,766.5L1099.5,766.5ZM1099.4,772.4L1099.6,771.4L1100.9,773.3ZM1057.9,728.4L1057.6,728.0L1057.1,727.5L1059.8,729.3L1060.9,730.3L1059.7,729.6ZM1054.8,725.3L1052.1,723.5L1054.1,724.8ZM1024.9,714.8L1025.2,714.6L1026.9,715.7ZM1092.2,810.1L1093.7,809.7L1093.5,811.5ZM1095.0,811.2L1095.8,811.2L1096.1,812.2ZM1097.5,809.4L1098.1,809.0L1098.1,811.2Z" fill="#2b2b2b" fill-rule="evenodd" stroke="#454545" stroke-width="0.9" stroke-linejoin="round"/>
<path d="M859.1,848.9L855.5,849.5L852.2,849.6L848.8,849.7L848.5,852.0L850.0,855.5L845.5,856.5L843.1,862.4M855.5,849.5L855.1,853.3L854.6,857.1L855.7,857.1M858.2,857.9L853.7,863.0L850.5,865.5M853.7,863.0L856.5,864.9L859.0,866.9M860.8,868.5L866.0,864.9L870.8,861.4L873.8,861.0L876.9,860.6M866.4,876.0L870.3,876.4L874.1,876.8M878.2,882.0L876.8,888.1M921.4,842.4L921.4,845.8L921.3,849.3M923.1,870.9L920.7,874.0L918.3,877.2L918.3,880.8L918.3,884.5L920.2,890.5L924.3,891.5L928.3,892.5L933.3,894.1L938.4,895.7L938.7,901.4L939.0,907.1L939.3,912.8L934.2,914.4L929.1,916.0L928.9,921.5L928.7,927.0L928.5,932.5L928.3,938.0M968.3,886.5L963.7,892.5L964.7,896.1L965.8,899.8L961.4,901.4L957.0,903.0L952.6,904.6L951.6,908.7L950.6,912.8L944.9,912.8L939.3,912.8M980.4,896.5L979.5,901.6L978.6,906.7L982.7,912.8L976.7,913.8L970.7,914.8L969.1,909.8L967.5,904.8L965.8,899.8M992.2,897.8L991.7,902.2L991.1,906.7L990.5,911.1L986.6,912.0L982.7,912.8M1001.2,902.6L999.8,906.7L998.3,910.7L994.4,910.9L990.5,911.1M891.9,915.6L895.9,917.4L899.9,919.3L903.3,920.3L906.8,921.3L906.0,927.0L911.0,928.6L916.1,930.3L922.2,934.1L928.3,938.0M886.7,934.7L889.3,938.0L892.0,941.2L893.4,938.0L894.7,934.7L900.3,930.9L906.0,927.0M928.3,938.0L922.2,939.6L916.2,941.2L914.2,946.3L912.2,951.3L916.2,956.3L920.3,961.4L926.3,959.4L926.3,965.4L930.3,965.4L933.5,971.3L932.8,976.3L932.2,981.2L931.0,985.7L929.9,990.2L926.8,994.1M930.3,965.4L935.9,963.8L941.5,962.2L947.1,960.6L947.6,965.0L948.2,969.3L954.0,971.6L959.9,973.8L965.7,976.1L966.4,981.0L967.2,985.9L970.4,986.1L973.7,986.3L974.4,989.6L975.1,992.9L974.5,996.8L973.8,1000.6M1080.1,765.3L1080.9,765.0L1082.2,765.1L1083.5,765.3L1084.9,766.5L1085.1,768.0L1088.0,772.1L1087.5,772.4L1091.4,776.8L1093.1,780.0M1085.5,760.8L1087.7,761.8L1089.9,762.9L1091.3,763.2L1092.7,763.5M1067.8,739.6L1070.1,741.0L1072.4,742.4L1073.7,743.1L1075.0,743.7L1075.4,743.7L1076.7,744.4L1077.9,745.1L1081.7,748.8L1083.3,750.8L1084.8,752.7L1086.3,753.6L1088.3,755.9L1091.4,758.5L1092.5,759.6M1067.6,738.8L1068.4,738.8L1070.6,739.8L1067.8,737.5L1067.1,736.5L1064.4,734.3M1070.6,739.8L1073.4,742.2L1075.0,743.7M1059.6,730.3L1060.5,730.5M1064.9,732.6L1069.2,735.8L1071.8,737.8L1074.3,739.8L1075.1,740.7L1075.7,741.6L1078.3,743.6L1080.9,745.6L1084.5,749.1L1084.1,749.1L1083.6,749.1L1083.1,749.1L1082.5,749.0L1081.7,748.8M1086.3,753.6L1086.0,752.4L1086.2,752.2L1085.6,751.1L1085.7,750.8L1085.7,750.5L1087.7,751.9L1090.3,754.4M1083.1,749.1L1085.6,751.1M1087.7,751.9L1087.7,751.6L1087.7,751.3L1087.1,750.8L1084.0,747.7M1080.9,745.6L1080.6,745.1L1081.4,745.6L1082.2,746.1L1084.0,747.7M1074.3,739.8L1075.6,740.7L1076.9,741.6L1078.3,742.7M1081.8,745.7L1084.0,747.7L1084.4,748.0M1089.4,752.7L1088.4,751.9L1087.7,751.3M1092.0,755.6L1092.3,755.6L1092.8,756.0M1092.0,755.6L1095.0,758.5L1098.6,762.0M1090.6,754.7L1090.8,754.7L1091.1,754.7L1088.4,751.9M1046.9,721.2L1043.6,719.1L1040.2,717.1L1036.7,715.2L1033.1,713.3L1030.6,711.9L1028.1,710.6L1025.1,709.1L1022.0,707.7L1018.8,706.3M1047.1,730.0L1047.7,731.2L1050.0,732.2L1050.9,732.2M1105.0,786.9L1108.4,791.6L1112.0,796.7L1111.0,797.6L1110.0,798.5L1111.4,801.2L1111.1,803.0L1110.8,804.8L1109.8,806.2L1108.7,807.6L1107.6,809.0L1109.9,814.0M1101.5,812.6L1104.2,812.6L1106.8,812.6L1109.3,812.6L1110.6,815.7L1112.0,818.8L1110.0,818.8L1108.0,818.8L1105.9,818.8L1107.7,823.4L1109.5,828.0L1108.2,829.9L1109.2,833.1L1110.2,836.3L1107.4,836.3L1104.6,836.3L1101.7,836.3M1109.9,814.0L1113.4,816.8L1116.7,819.6L1120.0,822.4L1123.7,826.0L1127.2,829.7L1130.6,833.3L1133.8,837.0L1136.0,839.5L1138.2,842.0L1139.3,845.0L1140.2,844.7L1140.7,843.9L1141.2,843.1L1141.1,840.4L1140.8,837.8L1140.7,834.5L1140.4,831.2L1139.9,828.0M1120.0,822.4L1118.7,822.6L1117.4,822.8L1119.8,828.0L1122.0,833.2L1124.1,838.5L1126.1,843.9L1128.0,849.3L1129.8,854.7L1131.3,858.6L1129.0,858.6L1126.6,858.6L1124.1,858.6L1121.9,858.4L1119.6,858.2L1118.9,861.4L1115.7,857.9L1112.3,854.3L1110.4,855.5L1108.3,856.7M1118.9,861.4L1120.8,866.1L1122.5,870.9L1120.0,870.5L1117.5,870.1L1114.2,870.5L1110.8,870.9M1117.5,870.1L1118.1,873.7L1115.7,876.8M1109.6,866.1L1111.7,865.7L1113.7,865.3L1116.6,866.9L1114.1,867.7L1112.1,867.9L1110.0,868.1M1122.5,870.9L1125.0,872.7L1127.4,874.6L1129.7,876.4L1130.8,879.6L1131.3,884.9L1131.6,890.1L1129.6,890.9L1127.3,886.5L1126.3,884.0L1124.6,880.4L1121.9,880.8L1120.6,884.5M1127.3,886.5L1126.4,889.7L1125.5,892.9M1131.6,890.1L1132.8,893.7L1133.9,897.4L1134.4,903.0M1130.8,879.6L1133.0,879.2L1135.1,878.8L1134.6,872.9L1135.2,867.7L1136.5,865.7L1137.7,863.7L1138.9,862.2L1140.1,860.6L1141.3,860.1L1142.6,859.5L1143.7,859.0L1142.8,853.2L1141.5,848.9L1140.2,844.7M1135.1,878.8L1137.6,880.2L1140.0,881.6L1140.7,886.4L1141.3,891.1L1141.8,895.8L1142.3,900.6M1140.0,881.6L1139.1,876.4L1141.2,876.2L1143.2,876.0L1144.4,876.4L1145.6,872.9L1144.8,870.1L1142.6,866.9L1141.4,863.7L1140.1,860.6M1144.8,870.1L1147.2,873.7M1143.2,876.0L1144.1,880.2L1145.0,884.3L1145.8,888.5L1146.7,892.3L1147.6,896.1M1144.4,876.4L1145.5,881.1L1146.4,885.9L1147.3,890.6L1148.1,895.3M1147.2,873.7L1147.9,878.9L1148.5,884.2L1149.0,889.6L1149.4,894.9M1147.2,873.7L1146.7,870.1L1146.1,866.5L1147.9,867.5L1149.5,868.5L1150.6,867.9L1151.6,867.3L1152.3,866.8L1152.8,866.2L1153.3,865.7M1153.3,865.7L1152.5,861.5L1151.6,857.3L1150.6,853.2L1148.8,847.9L1147.0,842.6L1145.0,837.4L1143.5,833.6L1142.0,829.9L1141.0,828.9L1139.9,828.0L1136.8,822.6L1133.5,817.3L1131.4,813.0L1129.2,808.7L1127.0,804.4L1126.1,803.3L1123.7,798.3L1121.1,793.3M1142.0,829.9L1143.3,832.0L1144.5,834.2M1126.1,803.3L1123.3,799.3L1120.3,795.3L1117.3,791.3L1115.2,787.8L1113.0,784.4L1110.8,781.0M1153.3,865.7L1154.1,868.5L1155.0,871.7L1156.1,876.2L1157.1,880.8L1157.9,885.7L1158.6,890.5M1154.1,868.5L1155.2,874.4L1156.1,880.4L1156.8,886.5L1157.2,892.5L1156.7,893.5L1156.1,894.5L1156.1,898.0L1155.9,901.4M1158.6,890.5L1158.6,888.5L1158.6,886.5M1158.6,890.5L1159.0,895.5L1159.3,900.6L1160.1,906.3L1160.6,912.0L1160.1,912.0L1159.5,912.0L1159.0,912.0L1158.4,912.0L1157.4,911.5M1160.6,912.0L1160.8,909.3L1160.8,906.7L1160.5,903.0M1159.2,951.5L1158.8,953.7L1159.3,949.3L1159.7,944.9L1159.3,944.9L1158.9,944.9L1158.3,944.9L1158.0,944.4M1160.8,906.7L1161.0,912.8L1161.1,917.9L1161.1,922.9L1160.9,926.4L1160.6,929.8L1160.4,933.3L1160.2,936.7L1159.8,938.8L1159.3,940.8L1159.1,940.0L1158.8,939.2L1158.2,941.2M1159.5,912.0L1160.2,917.6L1160.1,922.1L1160.0,926.6L1159.8,931.1L1159.2,932.1L1158.6,933.1L1158.0,936.7M1157.6,916.8L1158.6,916.8L1158.4,912.0" fill="none" stroke="#454545" stroke-width="0.9" stroke-linejoin="round"/>
<path d="M851.5,702.5L851.9,702.5L852.3,702.6L851.8,703.0L851.3,703.4L853.4,702.9L855.3,702.5L856.4,702.4L857.8,702.1L859.3,701.8L860.5,701.6L861.7,701.4L861.5,702.0L861.4,702.3L861.5,702.7L862.7,702.4L864.0,702.2L864.9,702.2L865.8,702.2L866.4,702.6L867.1,702.9L867.8,703.2L868.5,703.5L867.1,704.9L868.2,705.1L869.3,705.2L870.7,705.1L872.1,704.9L875.1,704.1L876.7,703.9L878.2,703.7L878.6,704.2L879.1,704.7L880.3,704.9L881.6,705.2L883.6,705.2L885.5,705.2L888.0,704.3L889.7,704.6L892.4,703.4L893.0,702.0L895.0,700.6L897.7,699.4L898.5,699.7L899.4,699.9L898.7,701.7L899.1,702.7L898.5,704.0L899.7,704.3L900.8,704.6L901.4,705.8L903.8,704.4L906.7,702.4L908.7,702.4L910.8,702.4L911.7,703.8L909.5,706.1L906.4,707.6L904.9,707.4L903.5,707.2L901.0,707.9L901.4,709.4L898.2,710.4L896.2,710.9L894.2,711.5L892.3,711.8L890.3,712.2L886.7,714.0L883.1,716.1L879.6,719.1L878.2,721.6L879.3,724.6L880.8,725.5L882.8,725.5L884.9,725.5L886.7,726.2L888.5,726.8L890.7,727.8L893.0,728.9L895.7,729.2L898.4,729.6L899.4,732.4L898.8,735.1L901.0,737.0L902.0,739.1L905.1,738.6L906.7,735.3L906.3,731.7L908.7,729.3L912.5,727.3L913.9,724.4L911.9,721.6L911.8,718.7L913.7,716.3L913.3,714.5L915.6,714.6L917.9,714.6L919.8,714.9L921.6,715.2L923.5,715.8L925.4,716.5L927.0,716.8L928.7,717.1L929.3,719.5L928.7,721.4L930.4,721.8L932.1,722.2L933.9,721.9L935.7,721.6L937.5,719.7L938.9,718.3L941.8,720.8L944.9,723.5L947.7,726.4L951.3,729.1L953.5,729.9L955.8,730.7L958.9,733.1L963.0,735.8L963.3,738.3L960.9,738.6L958.5,738.8L956.6,740.2L954.7,741.6L951.9,741.7L949.0,741.8L945.8,741.7L942.6,741.6L940.0,741.8L937.4,741.9L934.1,744.3L930.2,746.9L926.6,750.2L925.0,751.1L928.3,749.7L932.3,746.4L935.0,745.5L937.6,744.7L940.6,745.0L943.5,745.3L941.3,747.7L939.8,748.3L942.4,750.2L943.2,752.4L945.8,753.3L949.5,754.1L952.4,754.1L952.9,750.8L954.8,750.5L956.7,753.3L953.9,755.3L949.9,756.6L945.7,757.9L941.5,760.2L939.7,759.3L939.9,757.3L943.7,755.3L941.2,755.4L938.3,755.9L936.9,756.4L935.7,755.6L934.5,754.1L934.4,750.4L933.0,749.5L930.5,749.3L928.3,751.3L927.5,752.7L926.0,755.0L924.0,756.1L920.6,756.1L917.3,756.1L913.9,756.1L910.0,758.5L908.3,760.2L905.8,760.2L903.4,760.2L901.5,761.1L901.6,762.6L898.5,763.5L895.4,764.4L890.6,765.9L889.1,764.7L890.5,763.5L891.7,762.0L892.3,758.6L892.8,755.3L890.3,753.0L888.1,751.9L887.6,750.8L885.6,749.8L883.7,748.8L881.5,747.9L879.4,746.9L876.8,747.7L875.1,747.5L871.3,747.5L868.1,746.1L866.2,746.0L864.3,745.9L864.6,744.3L863.2,745.1L859.9,745.1L856.5,745.1L853.3,745.1L850.0,745.1L846.8,745.1L843.7,745.1L840.6,745.1L837.5,745.1L834.5,745.1L831.5,745.1L828.6,745.1L825.7,745.1L822.9,745.1L820.2,745.1L817.8,745.1L815.4,745.1L813.1,745.1L810.9,745.1L808.7,745.1L806.5,745.1L806.9,744.0L806.2,742.4L806.0,740.6L805.8,738.8L807.9,736.3L809.6,733.6L810.1,731.9L811.3,730.7L815.5,727.7L815.8,726.6L816.3,725.5L819.3,722.2L821.4,719.9L819.9,720.1L817.4,721.2L819.9,718.9L819.5,718.7L819.1,718.5L823.6,715.9L828.1,713.4L832.7,711.0L837.3,708.7L842.0,706.5L846.7,704.5ZM804.1,746.7L802.4,746.1L802.2,744.0L802.3,742.4L802.6,740.9L804.2,740.1L804.8,741.0L805.4,741.9L805.1,744.5ZM803.2,736.8L804.0,734.8L806.6,732.2L807.7,732.4L804.8,734.8ZM957.5,748.8L959.3,746.4L960.0,743.7L960.6,741.1L962.2,739.7L963.8,738.3L965.3,740.6L963.5,742.4L966.1,743.5L968.5,743.7L970.9,744.0L973.4,746.1L975.1,749.1L974.5,751.5L971.6,750.5L969.5,750.6L967.4,750.8L966.4,749.1L963.7,748.9L960.9,748.7ZM944.2,751.2L947.4,751.6L950.6,752.0L949.1,753.3L945.4,752.4ZM942.7,742.7L946.0,743.3L949.4,744.0L950.3,744.8L947.5,744.5L944.7,744.3ZM942.0,707.1L940.3,708.1L938.5,709.2L936.2,708.5L934.0,707.7L935.5,709.3L937.1,710.9L938.1,713.3L936.0,713.3L933.8,713.3L931.0,712.0L933.4,713.6L935.9,715.2L934.0,715.2L932.1,715.2L929.2,714.3L926.4,713.5L923.8,712.2L921.3,710.9L919.2,711.0L917.1,711.1L915.1,711.1L914.6,709.7L916.6,709.5L918.7,709.3L920.7,709.0L921.7,707.7L922.7,706.4L924.5,705.2L922.6,704.6L920.9,704.1L918.9,703.3L917.0,702.5L916.1,701.4L913.9,701.7L911.7,702.1L909.7,702.0L907.7,702.0L906.3,701.7L904.9,701.5L903.6,701.3L903.6,699.9L904.3,698.7L906.9,697.4L908.7,697.2L910.5,697.0L911.9,697.1L913.3,697.2L914.7,697.3L915.5,697.8L916.3,698.3L917.8,697.8L919.2,697.3L920.1,697.7L921.1,698.2L922.6,698.7L924.1,699.3L925.7,699.8L927.2,700.3L928.7,700.9L930.3,701.4L932.7,703.4L935.0,704.3L937.5,705.2L939.7,706.1ZM886.7,702.4L884.3,702.9L881.8,703.5L879.3,704.1L877.8,704.1L876.3,704.0L874.8,704.0L873.1,704.0L871.4,704.0L869.8,704.0L869.1,703.4L868.6,702.9L870.4,701.5L871.6,701.5L872.8,701.5L874.0,701.5L875.2,701.5L874.6,701.2L874.0,700.9L873.4,700.6L872.9,700.3L872.8,699.8L877.5,698.3L879.4,698.0L881.4,697.7L882.2,697.9L883.1,698.1L884.0,698.3L885.8,698.0L887.5,697.7L888.1,698.0L888.8,698.3L885.9,699.9L886.6,700.5L887.5,701.0ZM869.3,699.3L867.9,700.3L869.4,700.2L871.0,700.1L875.4,698.7L877.6,698.3L879.9,697.8L881.4,697.4L881.6,697.0L881.8,696.6L881.0,696.5L880.3,696.4L879.6,696.4L878.1,696.5L876.7,696.7L871.9,698.3ZM886.2,695.1L886.0,695.6L885.9,696.1L886.8,696.1L887.7,696.1L888.6,696.1L890.0,696.0L891.4,695.9L892.9,695.8L895.3,694.9L895.0,694.7L894.8,694.4L894.6,694.1L893.3,694.3L892.0,694.4L890.7,694.5L889.9,694.5L889.2,694.5L888.6,694.4ZM890.1,699.3L891.3,699.6L892.5,699.9L894.4,699.4L896.4,698.9L897.7,697.5L896.8,697.3L896.0,697.0L893.9,697.6L891.7,698.1ZM897.6,699.1L898.9,699.2L900.2,699.3L902.3,698.7L904.4,698.1L905.3,696.9L903.9,696.9L902.6,696.9L901.3,696.8L898.4,698.1ZM902.3,695.3L903.2,695.6L904.2,695.9L905.3,696.2L906.7,696.2L908.2,696.3L909.6,696.3L911.1,696.4L912.7,696.3L914.3,696.3L915.9,696.3L917.6,696.3L918.5,695.3L917.5,695.2L916.5,695.0L915.6,694.8L914.3,694.7L913.0,694.6L911.8,694.5L910.6,694.3L909.6,694.3L908.6,694.3L907.6,694.2L906.6,694.3L905.5,694.3L904.5,694.3ZM910.0,694.4L911.3,694.5L912.7,694.5L914.0,694.5L915.2,694.6L916.3,694.6L917.5,694.6L918.6,694.6L920.1,694.1L921.6,693.7L922.7,693.1L923.8,692.6L923.8,692.0L924.8,691.9L925.7,691.8L926.6,691.7L927.6,691.7L928.6,691.3L929.6,691.0L930.4,690.8L931.2,690.6L931.9,690.5L932.4,690.2L932.9,689.9L932.1,689.8L931.4,689.7L930.8,689.6L930.2,689.6L929.5,689.6L928.9,689.6L928.3,689.6L927.6,689.6L927.0,689.6L926.3,689.6L925.7,689.6L925.1,689.6L924.4,689.6L923.6,689.6L922.9,689.7L922.1,689.8L921.3,689.8L920.4,689.9L919.6,690.0L918.7,690.1L917.8,690.2L916.9,690.3L916.0,690.5L914.9,690.6L915.4,690.8L915.9,690.9L916.5,691.0L917.1,691.1L916.6,691.8L915.1,692.3L913.6,692.8L911.2,693.6ZM911.4,691.1L913.0,690.8L914.5,690.6L914.9,690.8L915.4,691.0L916.0,691.2L914.9,692.2L913.4,692.5L911.8,692.7L911.1,692.6L910.4,692.4L909.9,692.2ZM896.8,694.8L897.2,695.2L897.6,695.5L898.1,695.8L899.8,695.6L901.4,695.3L902.5,694.2L901.6,694.2L900.8,694.2L899.9,694.1L898.4,694.5ZM900.1,708.9L902.6,708.6L905.2,708.4L907.0,709.7L909.0,711.1L909.4,712.4L906.4,713.1L903.4,713.9L901.9,713.1L900.5,712.4L898.4,711.5ZM887.6,703.1L888.6,703.5L889.7,704.0L892.2,703.5L892.6,702.1L891.3,702.1L890.1,702.1ZM883.9,694.6L884.1,694.8L884.3,695.0L884.6,695.2L886.3,694.9L888.0,694.6L888.9,694.1L889.9,693.6L888.6,693.7L887.3,693.9Z" fill="#9a5bd6" stroke="#9a5bd6" stroke-width="0.6" stroke-linejoin="round"/>
<linearGradient id="usg" gradientUnits="userSpaceOnUse" x1="777" y1="795" x2="838" y2="778"><stop offset="0" stop-color="#8a52c2"/><stop offset="0.45" stop-color="#7042a0"/><stop offset="1" stop-color="#643a8f"/></linearGradient>
<path d="M784.3,795.7L784.7,793.0L783.5,791.3L782.7,790.3L780.1,788.9L780.9,785.9L780.9,782.3L781.5,781.0L781.8,778.7L782.1,776.8L783.0,773.0L784.2,769.9L787.6,765.6L789.3,762.3L791.5,759.9L793.7,757.6L795.8,755.1L798.0,752.7L800.1,749.7L802.0,746.7L803.1,746.9L804.1,747.2L803.1,749.7L805.4,747.2L806.5,745.1L808.7,745.1L810.9,745.1L813.1,745.1L815.4,745.1L817.8,745.1L820.2,745.1L822.9,745.1L825.7,745.1L828.6,745.1L831.5,745.1L834.5,745.1L837.5,745.1L840.6,745.1L843.7,745.1L846.8,745.1L850.0,745.1L853.3,745.1L856.5,745.1L859.9,745.1L863.2,745.1L864.6,744.3L864.3,745.9L866.2,746.0L868.1,746.1L871.3,747.5L875.1,747.5L876.8,747.7L879.4,746.9L881.5,747.9L883.7,748.8L885.6,749.8L887.6,750.8L888.1,751.9L890.3,753.0L892.8,755.3L892.3,758.6L891.7,762.0L890.5,763.5L889.1,764.7L890.6,765.9L895.4,764.4L898.5,763.5L901.6,762.6L901.5,761.1L903.4,760.2L905.8,760.2L908.3,760.2L910.0,758.5L913.9,756.1L917.3,756.1L920.6,756.1L924.0,756.1L926.0,755.0L927.5,752.7L928.3,751.3L930.5,749.3L933.0,749.5L934.4,750.4L934.5,754.1L935.7,755.6L936.9,756.4L935.3,757.6L931.8,758.2L928.9,759.6L927.4,760.5L926.2,762.3L925.6,763.8L926.5,765.3L928.3,764.8L928.3,765.9L925.3,766.5L923.7,766.8L920.7,767.3L917.3,768.2L916.0,769.3L915.8,771.8L914.2,773.3L912.8,774.4L911.0,773.0L911.6,774.6L912.1,776.2L910.3,778.7L909.2,780.4L908.4,777.8L908.1,774.6L907.5,777.5L907.9,780.7L908.9,782.0L909.9,784.3L910.1,786.4L906.6,788.3L902.1,790.8L898.3,792.0L894.6,795.0L890.9,797.4L888.7,801.6L888.7,805.1L890.3,809.7L891.9,815.1L891.5,819.5L889.9,821.7L887.7,821.9L885.5,818.4L884.4,815.5L882.9,812.6L883.5,808.3L881.4,805.5L879.5,804.2L875.9,805.6L873.8,804.0L870.9,803.0L866.5,803.3L863.2,803.2L860.7,803.9L860.9,806.5L861.4,807.9L858.4,807.4L855.4,807.2L852.7,805.8L849.3,805.3L845.9,805.6L843.1,806.9L840.0,808.8L835.6,811.2L833.3,814.0L832.4,816.6L832.5,819.1L829.6,818.2L826.8,817.3L826.5,813.3L824.5,809.4L822.7,805.1L819.7,805.1L816.7,807.9L813.6,805.8L813.3,802.3L810.5,798.1L808.2,798.1L805.8,798.1L805.2,799.9L801.4,799.9L797.7,799.9L795.0,798.5L792.3,797.1L789.8,795.7L790.4,795.0L787.3,795.4ZM811.3,730.7L811.7,729.6L813.6,727.3L815.2,725.0L817.2,722.9L816.4,722.9L815.7,722.9L817.0,721.2L817.4,720.5L817.8,719.7L817.6,719.4L817.5,719.1L817.0,719.1L816.5,719.0L817.2,718.3L818.0,717.5L817.2,717.7L816.4,717.9L814.0,719.2L812.9,719.7L811.8,720.1L811.0,720.5L810.2,720.8L814.9,718.1L817.8,716.7L816.8,717.1L815.8,717.5L812.8,719.1L810.4,720.3L807.5,722.0L805.6,723.1L803.8,724.2L801.9,725.3L800.1,726.4L798.5,727.4L797.0,728.4L796.0,729.1L795.0,729.8L794.1,730.4L793.3,731.0L795.0,729.8L796.8,728.6L797.6,728.0L798.4,727.5L800.2,726.3L802.1,725.0L806.7,722.2L806.6,722.2L807.1,721.9L807.6,721.6L807.3,721.8L810.8,719.7L811.0,719.6L811.3,719.4L814.3,717.7L817.9,715.7L820.5,714.4L823.2,713.0L823.3,712.9L823.4,712.9L824.0,712.5L824.7,712.2L828.0,710.6L827.8,710.7L827.7,710.7L828.4,710.4L828.6,710.3L828.8,710.2L831.6,708.9L832.8,708.4L834.8,707.5L835.3,707.2L836.0,707.0L834.9,707.4L834.0,707.9L837.8,706.2L840.1,705.2L842.6,704.3L844.9,703.3L845.3,703.2L845.7,703.0L847.7,702.3L849.8,701.5L850.9,701.1L852.1,700.7L852.9,700.5L853.7,700.2L853.3,700.4L852.9,700.6L852.5,700.7L852.0,701.0L851.6,701.3L851.5,701.4L851.4,701.5L851.4,701.7L851.5,701.8L851.7,702.0L851.6,702.2L851.5,702.5L846.7,704.5L842.0,706.5L837.3,708.7L832.7,711.0L828.1,713.4L823.6,715.9L819.1,718.5L819.5,718.7L819.9,718.9L817.4,721.2L819.9,720.1L821.4,719.9L819.3,722.2L816.3,725.5L815.8,726.6L815.5,727.7ZM802.6,725.0L802.5,725.3L802.3,725.5L804.9,724.0L806.0,723.1Z" fill="url(#usg)" stroke="#6d4299" stroke-width="0.7" stroke-linejoin="round"/>
<path d="M710.2,840.4L709.8,842.4L708.6,845.0L709.3,842.7ZM711.0,837.8L711.0,838.2L710.6,838.9ZM711.8,835.1L711.4,836.3L711.3,836.3ZM712.6,832.9L712.4,833.2L712.1,834.0Z" fill="#555" stroke="#555" stroke-width="1.2"/>
<path d="M1063.0,742.2L1063.9,741.9L1064.8,741.6L1065.4,741.1L1065.9,740.6L1066.3,740.0L1066.7,739.3L1065.0,738.3L1062.4,735.6L1060.3,734.8L1058.3,733.4L1054.1,731.0L1051.0,728.9L1049.0,727.7L1048.1,727.7L1045.3,725.0L1044.2,724.2L1043.4,724.1L1042.5,724.0L1042.5,724.4L1040.0,722.0L1039.2,722.0L1038.3,722.0L1041.0,724.4L1043.1,726.2L1045.9,727.7L1048.2,729.3L1048.2,728.9L1049.9,730.5L1050.6,730.4L1051.2,730.3L1054.2,732.4L1056.2,733.8L1055.0,734.1L1056.8,735.3L1058.4,736.5L1058.7,737.8L1060.0,738.2L1061.3,738.6L1062.1,738.6L1061.5,739.3ZM1053.2,734.1L1056.3,736.8L1055.8,737.3L1055.2,737.8L1054.4,738.0L1053.6,738.3L1051.6,736.8L1049.5,734.1L1046.3,731.9L1047.2,731.2L1045.5,729.6L1046.2,729.3L1047.8,729.6L1050.4,731.2L1051.3,732.4Z" fill="#8650be" opacity="0.9"/>
</g></g>
<linearGradient id="cb" x1="0" y1="0" x2="0" y2="1"><stop offset="0" stop-color="#643b92"/><stop offset="1" stop-color="#a45fe0"/></linearGradient><rect x="1184.1" y="592" width="10.2" height="180" fill="url(#cb)"/>
<path d="M1370.10,627.50A75.0,75.0 0 1 1 1360.38,628.13L1363.34,650.74A52.2,52.2 0 1 0 1370.10,650.30Z" fill="#8a3ffc"/>
<path d="M1360.38,628.13A75.0,75.0 0 0 1 1370.06,627.50L1370.07,650.30A52.2,52.2 0 0 0 1363.34,650.74Z" fill="#33b1ff"/>
<path d="M1370.06,627.50A75.0,75.0 0 0 1 1370.10,627.50L1370.10,650.30A52.2,52.2 0 0 0 1370.07,650.30Z" fill="#007d79"/>
<path d="M1360.6,601.5H1364.8V627.8" fill="none" stroke="#c6c6c6" stroke-width="1.3"/>
<rect x="1465.5" y="590.0" width="16.0" height="16.0" fill="#8a3ffc"/>
<rect x="1465.5" y="614.6" width="16.0" height="16.0" fill="#33b1ff"/>
<rect x="1465.5" y="639.4" width="16.0" height="16.0" fill="#007d79"/>
<g transform="translate(1386.70,63.60) scale(0.6375)" fill="#f4f4f4"><path d="M27,16.76c0-.25,0-.5,0-.76s0-.51,0-.77l1.92-1.68A2,2,0,0,0,29.3,11L26.94,7a2,2,0,0,0-1.73-1,2,2,0,0,0-.64.1l-2.43.82a11.35,11.35,0,0,0-1.31-.75l-.51-2.52a2,2,0,0,0-2-1.61H13.64a2,2,0,0,0-2,1.61l-.51,2.52a11.48,11.48,0,0,0-1.32.75L7.43,6.06A2,2,0,0,0,6.79,6,2,2,0,0,0,5.06,7L2.7,11a2,2,0,0,0,.41,2.51L5,15.24c0,.25,0,.5,0,.76s0,.51,0,.77L3.11,18.45A2,2,0,0,0,2.7,21L5.06,25a2,2,0,0,0,1.73,1,2,2,0,0,0,.64-.1l2.43-.82a11.35,11.35,0,0,0,1.31.75l.51,2.52a2,2,0,0,0,2,1.61h4.72a2,2,0,0,0,2-1.61l.51-2.52a11.48,11.48,0,0,0,1.32-.75l2.42.82a2,2,0,0,0,.64.1,2,2,0,0,0,1.73-1L29.3,21a2,2,0,0,0-.41-2.51ZM25.21,24l-3.43-1.16a8.86,8.86,0,0,1-2.71,1.57L18.36,28H13.64l-.71-3.55a9.36,9.36,0,0,1-2.7-1.57L6.79,24,4.43,20l2.72-2.4a8.9,8.9,0,0,1,0-3.13L4.43,12,6.79,8l3.43,1.16a8.86,8.86,0,0,1,2.71-1.57L13.64,4h4.72l.71,3.55a9.36,9.36,0,0,1,2.7,1.57L25.21,8,27.57,12l-2.72,2.4a8.9,8.9,0,0,1,0,3.13L27.57,20Z"/><path d="M16,22a6,6,0,1,1,6-6A5.94,5.94,0,0,1,16,22Zm0-10a3.91,3.91,0,0,0-4,4,3.91,3.91,0,0,0,4,4,3.91,3.91,0,0,0,4-4A3.91,3.91,0,0,0,16,12Z"/></g>
<g transform="translate(1439.3,64.4)" fill="none" stroke="#f4f4f4" stroke-width="1.45"><circle cx="4.6" cy="3.4" r="2.35"/><path d="M1.0,13.2V11.3a2.6,2.6 0 0 1 2.6,-2.6h2.4a2.6,2.6 0 0 1 2.4,1.6"/><circle cx="14.7" cy="9.0" r="2.75"/><path d="M10.2,18.6V17.0a2.9,2.9 0 0 1 2.9,-2.9h3.3a2.9,2.9 0 0 1 2.9,2.9V18.6"/></g>
<g transform="translate(1489.70,63.60) scale(0.6438)" fill="#f4f4f4"><path d="M26,24v4H6V24H4v4a2,2,0,0,0,2,2H26a2,2,0,0,0,2-2V24Z"/><path d="M6 12 7.411 13.405 15 5.825 15 24 17 24 17 5.825 24.591 13.405 26 12 16 2 6 12z"/></g>
<g transform="translate(1541.80,63.80) scale(0.6375)" fill="#f4f4f4"><path d="M26,28H6a2.0027,2.0027,0,0,1-2-2V6A2.0027,2.0027,0,0,1,6,4H16V6H6V26H26V16h2V26A2.0027,2.0027,0,0,1,26,28Z"/><path d="M20 2 20 4 26.586 4 18 12.586 19.414 14 28 5.414 28 12 30 12 30 2 20 2z"/></g>
<g transform="translate(1536.60,115.00) scale(0.6438)" fill="#f4f4f4"><path d="M18,28A12,12,0,1,0,6,16v6.2L2.4,18.6,1,20l6,6,6-6-1.4-1.4L8,22.2V16H8A10,10,0,1,1,18,26Z"/></g>
<path d="M1582.4,121.1h3M1582.4,129.8h3" stroke="#e8e8e8" stroke-width="2.4" fill="none"/>
<path d="M437.2,73.2L443.6,79.5L450,73.2" fill="none" stroke="#f4f4f4" stroke-width="1.5"/>
<path d="M240.15,151.60L241.44,155.22L245.29,155.33L242.24,157.68L243.32,161.37L240.15,159.20L236.98,161.37L238.06,157.68L235.01,155.33L238.86,155.22Z" fill="#f4f4f4"/>
<rect x="266.55" y="279.10" width="2.7" height="2.6" rx="0.5" fill="#f4f4f4"/><rect x="266.55" y="284.15" width="2.7" height="2.6" rx="0.5" fill="#f4f4f4"/><rect x="266.55" y="289.20" width="2.7" height="2.6" rx="0.5" fill="#f4f4f4"/>
<rect x="626.85" y="513.55" width="2.7" height="2.6" rx="0.5" fill="#f4f4f4"/><rect x="626.85" y="518.60" width="2.7" height="2.6" rx="0.5" fill="#f4f4f4"/><rect x="626.85" y="523.65" width="2.7" height="2.6" rx="0.5" fill="#f4f4f4"/>
<rect x="1226.65" y="513.55" width="2.7" height="2.6" rx="0.5" fill="#f4f4f4"/><rect x="1226.65" y="518.60" width="2.7" height="2.6" rx="0.5" fill="#f4f4f4"/><rect x="1226.65" y="523.65" width="2.7" height="2.6" rx="0.5" fill="#f4f4f4"/>
<path d="M281.4,473.8H284.8V489.3H269.8V485.8H281.4Z" fill="#1b1b1b"/>
<g transform="translate(1531.0,20.9)"><circle r="18.2" fill="#c8c8c8"/><circle r="14.4" fill="none" stroke="#5e5e5e" stroke-width="2.1"/><clipPath id="av"><circle r="13.6"/></clipPath><circle cx="-0.1" cy="-5.8" r="4.05" fill="none" stroke="#5e5e5e" stroke-width="2.1"/><path clip-path="url(#av)" d="M-7.7,16V9.6a6.2,6.2,0,0,1,6.2,-6.2h3.0a6.2,6.2,0,0,1,6.2,6.2V16" fill="none" stroke="#5e5e5e" stroke-width="2.1"/></g>
</svg>
<div id="tx">
<div class="t" style="left:9.68px;top:12.80px;font-size:16.8px;color:#f4f4f4;font-weight:700;letter-spacing:0.562px;">Security</div>
<div class="t" style="left:-27.78px;top:12.80px;font-size:16.8px;color:#f4f4f4;font-weight:700;letter-spacing:0.510px;">IBM</div>
<div class="t" style="left:84.20px;top:12.80px;font-size:16.8px;color:#f4f4f4;letter-spacing:0.716px;">QRadar</div>
<div class="t" style="left:1.54px;top:52.90px;font-size:14.4px;color:#b8b8b8;letter-spacing:0.282px;">Dashboard</div>
<div class="t" style="left:0.95px;top:73.80px;font-size:17.5px;color:#f4f4f4;letter-spacing:1.100px;">IBM</div>
<div class="t" style="left:40.12px;top:73.80px;font-size:17.5px;color:#f4f4f4;letter-spacing:0.613px;">Security</div>
<div class="t" style="left:112.20px;top:73.80px;font-size:17.5px;color:#f4f4f4;letter-spacing:0.144px;">QRadar</div>
<div class="t" style="left:179.12px;top:73.80px;font-size:17.5px;color:#f4f4f4;letter-spacing:0.964px;">Network</div>
<div class="t" style="left:254.97px;top:73.80px;font-size:17.5px;color:#f4f4f4;letter-spacing:0.623px;">Visibility</div>
<div class="t" style="left:341.60px;top:73.80px;font-size:17.5px;color:#f4f4f4;letter-spacing:0.395px;">Overview</div>
<div class="t" style="left:330.27px;top:73.80px;font-size:17.5px;color:#f4f4f4;">-</div>
<div class="t" style="left:-55.34px;top:113.50px;font-size:19.2px;color:#f4f4f4;font-weight:700;transform:scaleX(0.9539);transform-origin:0 0;">Parameters</div>
<div class="t" style="left:-31.12px;top:148.60px;font-size:16.8px;color:#f4f4f4;letter-spacing:0.011px;">Network Filter</div>
<div class="t" style="left:252.71px;top:148.80px;font-size:16.8px;color:#f4f4f4;transform:scaleX(0.9570);transform-origin:0 0;">AQL Time Criteria</div>
<div class="t" style="left:253.82px;top:195.30px;font-size:17.5px;color:#f4f4f4;letter-spacing:-0.181px;">LAST 1 HOURS</div>
<div class="t" style="left:537.57px;top:184.90px;font-size:17.8px;color:#8d8d8d;letter-spacing:0.747px;">Update</div>
<div class="t" style="left:-0.17px;top:269.30px;font-size:19.2px;color:#f4f4f4;font-weight:700;transform:scaleX(0.9041);transform-origin:0 0;">in Offenses</div>
<div class="t" style="left:305.63px;top:269.60px;font-size:19.2px;color:#f4f4f4;font-weight:700;transform:scaleX(0.9462);transform-origin:0 0;">Network</div>
<div class="t" style="left:382.35px;top:269.60px;font-size:19.2px;color:#f4f4f4;font-weight:700;transform:scaleX(0.9156);transform-origin:0 0;">Summary</div>
<div class="t" style="left:-19.78px;top:504.00px;font-size:19.2px;color:#f4f4f4;font-weight:700;transform:scaleX(0.9200);transform-origin:0 0;">Largest</div>
<div class="t" style="left:49.95px;top:504.00px;font-size:19.2px;color:#f4f4f4;font-weight:700;transform:scaleX(0.9156);transform-origin:0 0;">Volume</div>
<div class="t" style="left:116.92px;top:504.00px;font-size:19.2px;color:#f4f4f4;font-weight:700;transform:scaleX(0.9028);transform-origin:0 0;">Communications</div>
<div class="t" style="left:261.37px;top:504.00px;font-size:19.2px;color:#f4f4f4;font-weight:700;transform:scaleX(0.8973);transform-origin:0 0;">between</div>
<div class="t" style="left:333.96px;top:504.00px;font-size:19.2px;color:#f4f4f4;font-weight:700;letter-spacing:1.100px;">IPs</div>
<div class="t" style="left:665.66px;top:504.00px;font-size:19.2px;color:#f4f4f4;font-weight:700;transform:scaleX(0.9195);transform-origin:0 0;">Ingress</div>
<div class="t" style="left:733.56px;top:504.00px;font-size:19.2px;color:#f4f4f4;font-weight:700;transform:scaleX(0.9183);transform-origin:0 0;">and</div>
<div class="t" style="left:769.24px;top:504.00px;font-size:19.2px;color:#f4f4f4;font-weight:700;transform:scaleX(0.8565);transform-origin:0 0;">Egress</div>
<div class="t" style="left:828.87px;top:504.00px;font-size:19.2px;color:#f4f4f4;font-weight:700;transform:scaleX(0.9102);transform-origin:0 0;">Remote</div>
<div class="t" style="left:897.70px;top:504.00px;font-size:19.2px;color:#f4f4f4;font-weight:700;transform:scaleX(0.8873);transform-origin:0 0;">Regions</div>
<div class="t" style="left:969.59px;top:504.00px;font-size:19.2px;color:#f4f4f4;font-weight:700;transform:scaleX(0.8052);transform-origin:0 0;">by</div>
<div class="t" style="left:993.50px;top:504.00px;font-size:19.2px;color:#f4f4f4;font-weight:700;transform:scaleX(0.8653);transform-origin:0 0;">Session</div>
<div class="t" style="left:1062.23px;top:504.00px;font-size:19.2px;color:#f4f4f4;font-weight:700;transform:scaleX(0.8867);transform-origin:0 0;">Count</div>
<div class="t" style="left:1265.19px;top:504.00px;font-size:19.2px;color:#f4f4f4;font-weight:700;transform:scaleX(0.8994);transform-origin:0 0;">Least</div>
<div class="t" style="left:1314.72px;top:504.00px;font-size:19.2px;color:#f4f4f4;font-weight:700;transform:scaleX(0.9010);transform-origin:0 0;">Common</div>
<div class="t" style="left:1393.35px;top:504.00px;font-size:19.2px;color:#f4f4f4;font-weight:700;transform:scaleX(0.9240);transform-origin:0 0;">Ingress</div>
<div class="t" style="left:1461.31px;top:504.00px;font-size:19.2px;color:#f4f4f4;font-weight:700;transform:scaleX(0.9071);transform-origin:0 0;">Countries</div>
<div class="t" style="left:-54.09px;top:300.80px;font-size:16.8px;color:#a8a8a8;transform:scaleX(0.9040);transform-origin:0 0;">3 minutes ago</div>
<div class="t" style="left:305.59px;top:300.80px;font-size:16.8px;color:#a8a8a8;transform:scaleX(0.9070);transform-origin:0 0;">3 minutes ago</div>
<div class="t" style="left:-54.09px;top:535.80px;font-size:16.8px;color:#a8a8a8;transform:scaleX(0.9040);transform-origin:0 0;">3 minutes ago</div>
<div class="t" style="left:666.09px;top:535.80px;font-size:16.8px;color:#a8a8a8;transform:scaleX(0.9070);transform-origin:0 0;">3 minutes ago</div>
<div class="t" style="left:1265.59px;top:535.80px;font-size:16.8px;color:#a8a8a8;transform:scaleX(0.9070);transform-origin:0 0;">3 minutes ago</div>
<div class="t" style="left:31.28px;top:375.00px;font-size:50.2px;color:#f4f4f4;letter-spacing:0.184px;transform:scaleX(1.0600);transform-origin:0 0;-webkit-text-stroke:0.7px #262626;">27106</div>
<div class="t" style="left:327.23px;top:352.60px;font-size:16.8px;color:#f4f4f4;font-weight:700;transform:scaleX(0.9602);transform-origin:0 0;">Unique</div>
<div class="t" style="left:327.47px;top:372.80px;font-size:16.8px;color:#f4f4f4;font-weight:700;letter-spacing:-0.346px;">Applications</div>
<div class="t" style="left:522.73px;top:352.60px;font-size:16.8px;color:#f4f4f4;font-weight:700;transform:scaleX(0.9566);transform-origin:0 0;">Unique</div>
<div class="t" style="left:581.13px;top:352.60px;font-size:16.8px;color:#f4f4f4;font-weight:700;transform:scaleX(0.9370);transform-origin:0 0;">Source</div>
<div class="t" style="left:522.59px;top:372.80px;font-size:16.8px;color:#f4f4f4;font-weight:700;letter-spacing:0.519px;">IPs</div>
<div class="t" style="left:708.63px;top:352.60px;font-size:16.8px;color:#f4f4f4;font-weight:700;transform:scaleX(0.9602);transform-origin:0 0;">Unique</div>
<div class="t" style="left:767.10px;top:352.60px;font-size:16.8px;color:#f4f4f4;font-weight:700;letter-spacing:-0.256px;">Destination</div>
<div class="t" style="left:708.49px;top:372.80px;font-size:16.8px;color:#f4f4f4;font-weight:700;letter-spacing:0.619px;">IPs</div>
<div class="t" style="left:924.83px;top:352.60px;font-size:16.8px;color:#f4f4f4;font-weight:700;transform:scaleX(0.9547);transform-origin:0 0;">Unique</div>
<div class="t" style="left:983.55px;top:352.60px;font-size:16.8px;color:#f4f4f4;font-weight:700;transform:scaleX(0.9500);transform-origin:0 0;">Flow</div>
<div class="t" style="left:924.84px;top:372.80px;font-size:16.8px;color:#f4f4f4;font-weight:700;transform:scaleX(0.9152);transform-origin:0 0;">Sessions</div>
<div class="t" style="left:1132.65px;top:352.60px;font-size:16.8px;color:#f4f4f4;font-weight:700;transform:scaleX(0.9601);transform-origin:0 0;">Total</div>
<div class="t" style="left:1175.04px;top:352.60px;font-size:16.8px;color:#f4f4f4;font-weight:700;letter-spacing:-0.177px;">Traffic</div>
<div class="t" style="left:1131.76px;top:372.80px;font-size:16.8px;color:#f4f4f4;font-weight:700;transform:scaleX(0.9663);transform-origin:0 0;">Volume</div>
<div class="t" style="left:1326.64px;top:363.00px;font-size:16.8px;color:#f4f4f4;font-weight:700;letter-spacing:-0.177px;">Traffic</div>
<div class="t" style="left:1380.83px;top:363.00px;font-size:16.8px;color:#f4f4f4;font-weight:700;transform:scaleX(0.9353);transform-origin:0 0;">Sent</div>
<div class="t" style="left:1459.04px;top:352.60px;font-size:16.8px;color:#f4f4f4;font-weight:700;letter-spacing:-0.161px;">Traffic</div>
<div class="t" style="left:1457.95px;top:372.80px;font-size:16.8px;color:#f4f4f4;font-weight:700;transform:scaleX(0.9502);transform-origin:0 0;">Received</div>
<div class="t" style="left:327.62px;top:423.80px;font-size:19.2px;color:#f4f4f4;letter-spacing:0.343px;-webkit-text-stroke:0.3px #262626;">49</div>
<div class="t" style="left:522.49px;top:423.80px;font-size:19.2px;color:#f4f4f4;letter-spacing:1.004px;-webkit-text-stroke:0.3px #262626;">320</div>
<div class="t" style="left:708.00px;top:423.80px;font-size:19.2px;color:#f4f4f4;letter-spacing:1.020px;-webkit-text-stroke:0.3px #262626;">617</div>
<div class="t" style="left:924.09px;top:423.80px;font-size:19.2px;color:#f4f4f4;letter-spacing:0.211px;-webkit-text-stroke:0.3px #262626;">191.882K</div>
<div class="t" style="left:1131.00px;top:423.80px;font-size:19.2px;color:#f4f4f4;letter-spacing:0.029px;-webkit-text-stroke:0.3px #262626;">922.29 MB</div>
<div class="t" style="left:1326.12px;top:423.80px;font-size:19.2px;color:#f4f4f4;letter-spacing:-0.174px;-webkit-text-stroke:0.3px #262626;">430.43 MB</div>
<div class="t" style="left:1458.62px;top:423.80px;font-size:19.2px;color:#f4f4f4;letter-spacing:-0.174px;-webkit-text-stroke:0.3px #262626;">491.86 MB</div>
<div class="t" style="left:1197.67px;top:612.10px;font-size:15.4px;color:#c6c6c6;transform:scaleX(0.9297);transform-origin:0 0;">6000</div>
<div class="t" style="left:1198.32px;top:662.40px;font-size:15.4px;color:#c6c6c6;transform:scaleX(0.9105);transform-origin:0 0;">4000</div>
<div class="t" style="left:1197.93px;top:713.80px;font-size:15.4px;color:#c6c6c6;transform:scaleX(0.9219);transform-origin:0 0;">2000</div>
<div class="t" style="left:1198.32px;top:763.90px;font-size:15.4px;color:#c6c6c6;">0</div>
<div class="t" style="left:1321.56px;top:593.80px;font-size:15.4px;color:#c6c6c6;transform:scaleX(0.8870);transform-origin:0 0;">2.06%</div>
<div class="t" style="left:1293.08px;top:612.10px;font-size:15.4px;color:#c6c6c6;transform:scaleX(0.8975);transform-origin:0 0;">0.00938%</div>
<div class="t" style="left:1379.82px;top:777.30px;font-size:15.4px;color:#c6c6c6;transform:scaleX(0.9065);transform-origin:0 0;">97.9%</div>
<div class="t" style="left:1499.07px;top:590.80px;font-size:15.6px;color:#c6c6c6;transform:scaleX(0.8797);transform-origin:0 0;">Unknown</div>
<div class="t" style="left:1499.09px;top:615.50px;font-size:15.6px;color:#c6c6c6;transform:scaleX(0.8651);transform-origin:0 0;">United States</div>
<div class="t" style="left:1499.80px;top:640.10px;font-size:15.6px;color:#c6c6c6;transform:scaleX(0.8585);transform-origin:0 0;">Japan</div>
</div>
</body></html>
